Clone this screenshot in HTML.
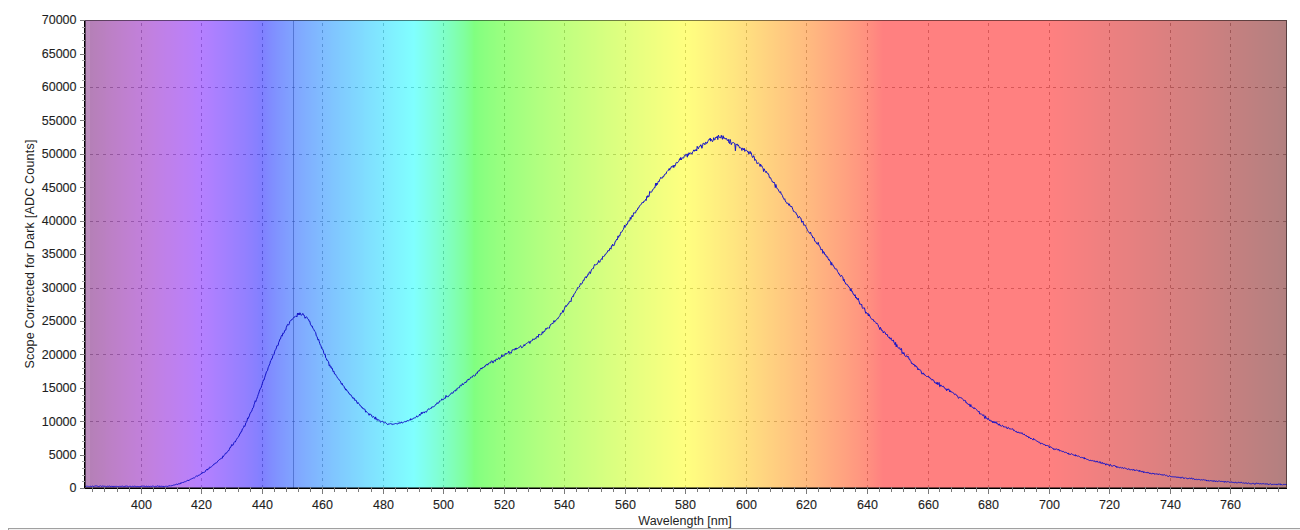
<!DOCTYPE html>
<html><head><meta charset="utf-8"><style>
html,body{margin:0;padding:0;background:#fff;width:1300px;height:530px;overflow:hidden}
svg{display:block}
text{font-family:"Liberation Sans",sans-serif;font-size:12.5px;fill:#1e1e1e;stroke:#1e1e1e;stroke-width:0.12px}
</style></head><body>
<svg width="1300" height="530" viewBox="0 0 1300 530">
<defs><linearGradient id="g" x1="84" x2="1287" y1="0" y2="0" gradientUnits="userSpaceOnUse">
<stop offset="0.0000" stop-color="#b280b2"/>
<stop offset="0.0012" stop-color="#b280b4"/>
<stop offset="0.0025" stop-color="#b380b5"/>
<stop offset="0.0037" stop-color="#b480b6"/>
<stop offset="0.0050" stop-color="#b580b7"/>
<stop offset="0.0062" stop-color="#b580b8"/>
<stop offset="0.0075" stop-color="#b680b9"/>
<stop offset="0.0087" stop-color="#b780ba"/>
<stop offset="0.0100" stop-color="#b780bb"/>
<stop offset="0.0112" stop-color="#b880bc"/>
<stop offset="0.0125" stop-color="#b880bd"/>
<stop offset="0.0137" stop-color="#b980be"/>
<stop offset="0.0150" stop-color="#b980bf"/>
<stop offset="0.0162" stop-color="#ba80c0"/>
<stop offset="0.0175" stop-color="#ba80c1"/>
<stop offset="0.0187" stop-color="#bb80c3"/>
<stop offset="0.0200" stop-color="#bb80c4"/>
<stop offset="0.0212" stop-color="#bc80c5"/>
<stop offset="0.0224" stop-color="#bc80c6"/>
<stop offset="0.0237" stop-color="#bd80c7"/>
<stop offset="0.0249" stop-color="#bd80c8"/>
<stop offset="0.0262" stop-color="#bd80c9"/>
<stop offset="0.0274" stop-color="#be80ca"/>
<stop offset="0.0287" stop-color="#be80cb"/>
<stop offset="0.0299" stop-color="#be80cc"/>
<stop offset="0.0312" stop-color="#bf80cd"/>
<stop offset="0.0324" stop-color="#bf80ce"/>
<stop offset="0.0337" stop-color="#bf80cf"/>
<stop offset="0.0349" stop-color="#bf80d0"/>
<stop offset="0.0362" stop-color="#c080d1"/>
<stop offset="0.0374" stop-color="#c080d2"/>
<stop offset="0.0387" stop-color="#c080d3"/>
<stop offset="0.0399" stop-color="#c080d4"/>
<stop offset="0.0411" stop-color="#c080d5"/>
<stop offset="0.0424" stop-color="#c080d6"/>
<stop offset="0.0436" stop-color="#c180d7"/>
<stop offset="0.0449" stop-color="#c180d8"/>
<stop offset="0.0461" stop-color="#c180d9"/>
<stop offset="0.0474" stop-color="#c180da"/>
<stop offset="0.0486" stop-color="#c180da"/>
<stop offset="0.0499" stop-color="#c180db"/>
<stop offset="0.0511" stop-color="#c180dc"/>
<stop offset="0.0524" stop-color="#c180dd"/>
<stop offset="0.0536" stop-color="#c180de"/>
<stop offset="0.0549" stop-color="#c180df"/>
<stop offset="0.0561" stop-color="#c180e0"/>
<stop offset="0.0574" stop-color="#c180e1"/>
<stop offset="0.0586" stop-color="#c180e2"/>
<stop offset="0.0599" stop-color="#c080e3"/>
<stop offset="0.0611" stop-color="#c080e4"/>
<stop offset="0.0623" stop-color="#c080e5"/>
<stop offset="0.0636" stop-color="#c080e6"/>
<stop offset="0.0648" stop-color="#c080e7"/>
<stop offset="0.0661" stop-color="#c080e8"/>
<stop offset="0.0673" stop-color="#bf80e9"/>
<stop offset="0.0686" stop-color="#bf80ea"/>
<stop offset="0.0698" stop-color="#bf80eb"/>
<stop offset="0.0711" stop-color="#bf80eb"/>
<stop offset="0.0723" stop-color="#be80ec"/>
<stop offset="0.0736" stop-color="#be80ed"/>
<stop offset="0.0748" stop-color="#be80ee"/>
<stop offset="0.0761" stop-color="#bd80ef"/>
<stop offset="0.0773" stop-color="#bd80f0"/>
<stop offset="0.0786" stop-color="#bd80f1"/>
<stop offset="0.0798" stop-color="#bc80f2"/>
<stop offset="0.0810" stop-color="#bc80f3"/>
<stop offset="0.0823" stop-color="#bc80f4"/>
<stop offset="0.0835" stop-color="#bb80f5"/>
<stop offset="0.0848" stop-color="#bb80f5"/>
<stop offset="0.0860" stop-color="#ba80f6"/>
<stop offset="0.0873" stop-color="#ba80f7"/>
<stop offset="0.0885" stop-color="#b980f8"/>
<stop offset="0.0898" stop-color="#b980f9"/>
<stop offset="0.0910" stop-color="#b880fa"/>
<stop offset="0.0923" stop-color="#b780fb"/>
<stop offset="0.0935" stop-color="#b780fc"/>
<stop offset="0.0948" stop-color="#b680fd"/>
<stop offset="0.0960" stop-color="#b680fe"/>
<stop offset="0.0973" stop-color="#b580fe"/>
<stop offset="0.0985" stop-color="#b480ff"/>
<stop offset="0.0998" stop-color="#b380ff"/>
<stop offset="0.1010" stop-color="#b280ff"/>
<stop offset="0.1022" stop-color="#b180ff"/>
<stop offset="0.1035" stop-color="#b080ff"/>
<stop offset="0.1047" stop-color="#af80ff"/>
<stop offset="0.1060" stop-color="#ae80ff"/>
<stop offset="0.1072" stop-color="#ad80ff"/>
<stop offset="0.1085" stop-color="#ab80ff"/>
<stop offset="0.1097" stop-color="#aa80ff"/>
<stop offset="0.1110" stop-color="#a980ff"/>
<stop offset="0.1122" stop-color="#a880ff"/>
<stop offset="0.1135" stop-color="#a780ff"/>
<stop offset="0.1147" stop-color="#a680ff"/>
<stop offset="0.1160" stop-color="#a580ff"/>
<stop offset="0.1172" stop-color="#a480ff"/>
<stop offset="0.1185" stop-color="#a280ff"/>
<stop offset="0.1197" stop-color="#a180ff"/>
<stop offset="0.1209" stop-color="#a080ff"/>
<stop offset="0.1222" stop-color="#9f80ff"/>
<stop offset="0.1234" stop-color="#9e80ff"/>
<stop offset="0.1247" stop-color="#9c80ff"/>
<stop offset="0.1259" stop-color="#9b80ff"/>
<stop offset="0.1272" stop-color="#9a80ff"/>
<stop offset="0.1284" stop-color="#9980ff"/>
<stop offset="0.1297" stop-color="#9780ff"/>
<stop offset="0.1309" stop-color="#9680ff"/>
<stop offset="0.1322" stop-color="#9580ff"/>
<stop offset="0.1334" stop-color="#9480ff"/>
<stop offset="0.1347" stop-color="#9280ff"/>
<stop offset="0.1359" stop-color="#9180ff"/>
<stop offset="0.1372" stop-color="#8f80ff"/>
<stop offset="0.1384" stop-color="#8e80ff"/>
<stop offset="0.1397" stop-color="#8d80ff"/>
<stop offset="0.1409" stop-color="#8b80ff"/>
<stop offset="0.1421" stop-color="#8980ff"/>
<stop offset="0.1434" stop-color="#8880ff"/>
<stop offset="0.1446" stop-color="#8680ff"/>
<stop offset="0.1459" stop-color="#8480ff"/>
<stop offset="0.1471" stop-color="#8280ff"/>
<stop offset="0.1484" stop-color="#8080ff"/>
<stop offset="0.1496" stop-color="#8083ff"/>
<stop offset="0.1509" stop-color="#8085ff"/>
<stop offset="0.1521" stop-color="#8087ff"/>
<stop offset="0.1534" stop-color="#8089ff"/>
<stop offset="0.1546" stop-color="#808bff"/>
<stop offset="0.1559" stop-color="#808dff"/>
<stop offset="0.1571" stop-color="#808fff"/>
<stop offset="0.1584" stop-color="#8090ff"/>
<stop offset="0.1596" stop-color="#8092ff"/>
<stop offset="0.1608" stop-color="#8094ff"/>
<stop offset="0.1621" stop-color="#8095ff"/>
<stop offset="0.1633" stop-color="#8097ff"/>
<stop offset="0.1646" stop-color="#8098ff"/>
<stop offset="0.1658" stop-color="#809aff"/>
<stop offset="0.1671" stop-color="#809bff"/>
<stop offset="0.1683" stop-color="#809dff"/>
<stop offset="0.1696" stop-color="#809eff"/>
<stop offset="0.1708" stop-color="#80a0ff"/>
<stop offset="0.1721" stop-color="#80a1ff"/>
<stop offset="0.1733" stop-color="#80a2ff"/>
<stop offset="0.1746" stop-color="#80a4ff"/>
<stop offset="0.1758" stop-color="#80a5ff"/>
<stop offset="0.1771" stop-color="#80a7ff"/>
<stop offset="0.1783" stop-color="#80a8ff"/>
<stop offset="0.1796" stop-color="#80a9ff"/>
<stop offset="0.1808" stop-color="#80abff"/>
<stop offset="0.1820" stop-color="#80acff"/>
<stop offset="0.1833" stop-color="#80adff"/>
<stop offset="0.1845" stop-color="#80afff"/>
<stop offset="0.1858" stop-color="#80b0ff"/>
<stop offset="0.1870" stop-color="#80b1ff"/>
<stop offset="0.1883" stop-color="#80b2ff"/>
<stop offset="0.1895" stop-color="#80b4ff"/>
<stop offset="0.1908" stop-color="#80b5ff"/>
<stop offset="0.1920" stop-color="#80b6ff"/>
<stop offset="0.1933" stop-color="#80b7ff"/>
<stop offset="0.1945" stop-color="#80b9ff"/>
<stop offset="0.1958" stop-color="#80baff"/>
<stop offset="0.1970" stop-color="#80bbff"/>
<stop offset="0.1983" stop-color="#80bcff"/>
<stop offset="0.1995" stop-color="#80beff"/>
<stop offset="0.2007" stop-color="#80bfff"/>
<stop offset="0.2020" stop-color="#80c0ff"/>
<stop offset="0.2032" stop-color="#80c1ff"/>
<stop offset="0.2045" stop-color="#80c2ff"/>
<stop offset="0.2057" stop-color="#80c4ff"/>
<stop offset="0.2070" stop-color="#80c5ff"/>
<stop offset="0.2082" stop-color="#80c6ff"/>
<stop offset="0.2095" stop-color="#80c7ff"/>
<stop offset="0.2107" stop-color="#80c8ff"/>
<stop offset="0.2120" stop-color="#80c9ff"/>
<stop offset="0.2132" stop-color="#80cbff"/>
<stop offset="0.2145" stop-color="#80ccff"/>
<stop offset="0.2157" stop-color="#80cdff"/>
<stop offset="0.2170" stop-color="#80ceff"/>
<stop offset="0.2182" stop-color="#80cfff"/>
<stop offset="0.2195" stop-color="#80d0ff"/>
<stop offset="0.2207" stop-color="#80d1ff"/>
<stop offset="0.2219" stop-color="#80d3ff"/>
<stop offset="0.2232" stop-color="#80d4ff"/>
<stop offset="0.2244" stop-color="#80d5ff"/>
<stop offset="0.2257" stop-color="#80d6ff"/>
<stop offset="0.2269" stop-color="#80d7ff"/>
<stop offset="0.2282" stop-color="#80d8ff"/>
<stop offset="0.2294" stop-color="#80d9ff"/>
<stop offset="0.2307" stop-color="#80daff"/>
<stop offset="0.2319" stop-color="#80dbff"/>
<stop offset="0.2332" stop-color="#80ddff"/>
<stop offset="0.2344" stop-color="#80deff"/>
<stop offset="0.2357" stop-color="#80dfff"/>
<stop offset="0.2369" stop-color="#80e0ff"/>
<stop offset="0.2382" stop-color="#80e1ff"/>
<stop offset="0.2394" stop-color="#80e2ff"/>
<stop offset="0.2406" stop-color="#80e3ff"/>
<stop offset="0.2419" stop-color="#80e4ff"/>
<stop offset="0.2431" stop-color="#80e5ff"/>
<stop offset="0.2444" stop-color="#80e6ff"/>
<stop offset="0.2456" stop-color="#80e7ff"/>
<stop offset="0.2469" stop-color="#80e8ff"/>
<stop offset="0.2481" stop-color="#80e9ff"/>
<stop offset="0.2494" stop-color="#80ebff"/>
<stop offset="0.2506" stop-color="#80ecff"/>
<stop offset="0.2519" stop-color="#80edff"/>
<stop offset="0.2531" stop-color="#80eeff"/>
<stop offset="0.2544" stop-color="#80efff"/>
<stop offset="0.2556" stop-color="#80f0ff"/>
<stop offset="0.2569" stop-color="#80f1ff"/>
<stop offset="0.2581" stop-color="#80f2ff"/>
<stop offset="0.2594" stop-color="#80f3ff"/>
<stop offset="0.2606" stop-color="#80f4ff"/>
<stop offset="0.2618" stop-color="#80f5ff"/>
<stop offset="0.2631" stop-color="#80f6ff"/>
<stop offset="0.2643" stop-color="#80f7ff"/>
<stop offset="0.2656" stop-color="#80f8ff"/>
<stop offset="0.2668" stop-color="#80f9ff"/>
<stop offset="0.2681" stop-color="#80faff"/>
<stop offset="0.2693" stop-color="#80fbff"/>
<stop offset="0.2706" stop-color="#80fcff"/>
<stop offset="0.2718" stop-color="#80fdff"/>
<stop offset="0.2731" stop-color="#80feff"/>
<stop offset="0.2743" stop-color="#80ffff"/>
<stop offset="0.2756" stop-color="#80fffc"/>
<stop offset="0.2768" stop-color="#80fff9"/>
<stop offset="0.2781" stop-color="#80fff7"/>
<stop offset="0.2793" stop-color="#80fff4"/>
<stop offset="0.2805" stop-color="#80fff2"/>
<stop offset="0.2818" stop-color="#80ffef"/>
<stop offset="0.2830" stop-color="#80ffed"/>
<stop offset="0.2843" stop-color="#80ffea"/>
<stop offset="0.2855" stop-color="#80ffe7"/>
<stop offset="0.2868" stop-color="#80ffe5"/>
<stop offset="0.2880" stop-color="#80ffe2"/>
<stop offset="0.2893" stop-color="#80ffdf"/>
<stop offset="0.2905" stop-color="#80ffdc"/>
<stop offset="0.2918" stop-color="#80ffda"/>
<stop offset="0.2930" stop-color="#80ffd7"/>
<stop offset="0.2943" stop-color="#80ffd4"/>
<stop offset="0.2955" stop-color="#80ffd1"/>
<stop offset="0.2968" stop-color="#80ffce"/>
<stop offset="0.2980" stop-color="#80ffcc"/>
<stop offset="0.2993" stop-color="#80ffc9"/>
<stop offset="0.3005" stop-color="#80ffc6"/>
<stop offset="0.3017" stop-color="#80ffc3"/>
<stop offset="0.3030" stop-color="#80ffc0"/>
<stop offset="0.3042" stop-color="#80ffbd"/>
<stop offset="0.3055" stop-color="#80ffba"/>
<stop offset="0.3067" stop-color="#80ffb7"/>
<stop offset="0.3080" stop-color="#80ffb4"/>
<stop offset="0.3092" stop-color="#80ffb0"/>
<stop offset="0.3105" stop-color="#80ffad"/>
<stop offset="0.3117" stop-color="#80ffaa"/>
<stop offset="0.3130" stop-color="#80ffa6"/>
<stop offset="0.3142" stop-color="#80ffa3"/>
<stop offset="0.3155" stop-color="#80ffa0"/>
<stop offset="0.3167" stop-color="#80ff9c"/>
<stop offset="0.3180" stop-color="#80ff98"/>
<stop offset="0.3192" stop-color="#80ff94"/>
<stop offset="0.3204" stop-color="#80ff90"/>
<stop offset="0.3217" stop-color="#80ff8c"/>
<stop offset="0.3229" stop-color="#80ff87"/>
<stop offset="0.3242" stop-color="#80ff81"/>
<stop offset="0.3254" stop-color="#82ff80"/>
<stop offset="0.3267" stop-color="#83ff80"/>
<stop offset="0.3279" stop-color="#85ff80"/>
<stop offset="0.3292" stop-color="#87ff80"/>
<stop offset="0.3304" stop-color="#88ff80"/>
<stop offset="0.3317" stop-color="#89ff80"/>
<stop offset="0.3329" stop-color="#8bff80"/>
<stop offset="0.3342" stop-color="#8cff80"/>
<stop offset="0.3354" stop-color="#8dff80"/>
<stop offset="0.3367" stop-color="#8fff80"/>
<stop offset="0.3379" stop-color="#90ff80"/>
<stop offset="0.3392" stop-color="#91ff80"/>
<stop offset="0.3404" stop-color="#92ff80"/>
<stop offset="0.3416" stop-color="#93ff80"/>
<stop offset="0.3429" stop-color="#95ff80"/>
<stop offset="0.3441" stop-color="#96ff80"/>
<stop offset="0.3454" stop-color="#97ff80"/>
<stop offset="0.3466" stop-color="#98ff80"/>
<stop offset="0.3479" stop-color="#99ff80"/>
<stop offset="0.3491" stop-color="#9aff80"/>
<stop offset="0.3504" stop-color="#9bff80"/>
<stop offset="0.3516" stop-color="#9cff80"/>
<stop offset="0.3529" stop-color="#9dff80"/>
<stop offset="0.3541" stop-color="#9eff80"/>
<stop offset="0.3554" stop-color="#9fff80"/>
<stop offset="0.3566" stop-color="#a0ff80"/>
<stop offset="0.3579" stop-color="#a1ff80"/>
<stop offset="0.3591" stop-color="#a2ff80"/>
<stop offset="0.3603" stop-color="#a3ff80"/>
<stop offset="0.3616" stop-color="#a4ff80"/>
<stop offset="0.3628" stop-color="#a5ff80"/>
<stop offset="0.3641" stop-color="#a6ff80"/>
<stop offset="0.3653" stop-color="#a7ff80"/>
<stop offset="0.3666" stop-color="#a8ff80"/>
<stop offset="0.3678" stop-color="#a9ff80"/>
<stop offset="0.3691" stop-color="#aaff80"/>
<stop offset="0.3703" stop-color="#abff80"/>
<stop offset="0.3716" stop-color="#acff80"/>
<stop offset="0.3728" stop-color="#adff80"/>
<stop offset="0.3741" stop-color="#aeff80"/>
<stop offset="0.3753" stop-color="#afff80"/>
<stop offset="0.3766" stop-color="#b0ff80"/>
<stop offset="0.3778" stop-color="#b1ff80"/>
<stop offset="0.3791" stop-color="#b2ff80"/>
<stop offset="0.3803" stop-color="#b2ff80"/>
<stop offset="0.3815" stop-color="#b3ff80"/>
<stop offset="0.3828" stop-color="#b4ff80"/>
<stop offset="0.3840" stop-color="#b5ff80"/>
<stop offset="0.3853" stop-color="#b6ff80"/>
<stop offset="0.3865" stop-color="#b7ff80"/>
<stop offset="0.3878" stop-color="#b8ff80"/>
<stop offset="0.3890" stop-color="#b9ff80"/>
<stop offset="0.3903" stop-color="#baff80"/>
<stop offset="0.3915" stop-color="#baff80"/>
<stop offset="0.3928" stop-color="#bbff80"/>
<stop offset="0.3940" stop-color="#bcff80"/>
<stop offset="0.3953" stop-color="#bdff80"/>
<stop offset="0.3965" stop-color="#beff80"/>
<stop offset="0.3978" stop-color="#bfff80"/>
<stop offset="0.3990" stop-color="#c0ff80"/>
<stop offset="0.4002" stop-color="#c1ff80"/>
<stop offset="0.4015" stop-color="#c1ff80"/>
<stop offset="0.4027" stop-color="#c2ff80"/>
<stop offset="0.4040" stop-color="#c3ff80"/>
<stop offset="0.4052" stop-color="#c4ff80"/>
<stop offset="0.4065" stop-color="#c5ff80"/>
<stop offset="0.4077" stop-color="#c6ff80"/>
<stop offset="0.4090" stop-color="#c6ff80"/>
<stop offset="0.4102" stop-color="#c7ff80"/>
<stop offset="0.4115" stop-color="#c8ff80"/>
<stop offset="0.4127" stop-color="#c9ff80"/>
<stop offset="0.4140" stop-color="#caff80"/>
<stop offset="0.4152" stop-color="#cbff80"/>
<stop offset="0.4165" stop-color="#cbff80"/>
<stop offset="0.4177" stop-color="#ccff80"/>
<stop offset="0.4190" stop-color="#cdff80"/>
<stop offset="0.4202" stop-color="#ceff80"/>
<stop offset="0.4214" stop-color="#cfff80"/>
<stop offset="0.4227" stop-color="#d0ff80"/>
<stop offset="0.4239" stop-color="#d0ff80"/>
<stop offset="0.4252" stop-color="#d1ff80"/>
<stop offset="0.4264" stop-color="#d2ff80"/>
<stop offset="0.4277" stop-color="#d3ff80"/>
<stop offset="0.4289" stop-color="#d4ff80"/>
<stop offset="0.4302" stop-color="#d4ff80"/>
<stop offset="0.4314" stop-color="#d5ff80"/>
<stop offset="0.4327" stop-color="#d6ff80"/>
<stop offset="0.4339" stop-color="#d7ff80"/>
<stop offset="0.4352" stop-color="#d8ff80"/>
<stop offset="0.4364" stop-color="#d8ff80"/>
<stop offset="0.4377" stop-color="#d9ff80"/>
<stop offset="0.4389" stop-color="#daff80"/>
<stop offset="0.4401" stop-color="#dbff80"/>
<stop offset="0.4414" stop-color="#dbff80"/>
<stop offset="0.4426" stop-color="#dcff80"/>
<stop offset="0.4439" stop-color="#ddff80"/>
<stop offset="0.4451" stop-color="#deff80"/>
<stop offset="0.4464" stop-color="#dfff80"/>
<stop offset="0.4476" stop-color="#dfff80"/>
<stop offset="0.4489" stop-color="#e0ff80"/>
<stop offset="0.4501" stop-color="#e1ff80"/>
<stop offset="0.4514" stop-color="#e2ff80"/>
<stop offset="0.4526" stop-color="#e2ff80"/>
<stop offset="0.4539" stop-color="#e3ff80"/>
<stop offset="0.4551" stop-color="#e4ff80"/>
<stop offset="0.4564" stop-color="#e5ff80"/>
<stop offset="0.4576" stop-color="#e6ff80"/>
<stop offset="0.4589" stop-color="#e6ff80"/>
<stop offset="0.4601" stop-color="#e7ff80"/>
<stop offset="0.4613" stop-color="#e8ff80"/>
<stop offset="0.4626" stop-color="#e9ff80"/>
<stop offset="0.4638" stop-color="#e9ff80"/>
<stop offset="0.4651" stop-color="#eaff80"/>
<stop offset="0.4663" stop-color="#ebff80"/>
<stop offset="0.4676" stop-color="#ecff80"/>
<stop offset="0.4688" stop-color="#ecff80"/>
<stop offset="0.4701" stop-color="#edff80"/>
<stop offset="0.4713" stop-color="#eeff80"/>
<stop offset="0.4726" stop-color="#efff80"/>
<stop offset="0.4738" stop-color="#efff80"/>
<stop offset="0.4751" stop-color="#f0ff80"/>
<stop offset="0.4763" stop-color="#f1ff80"/>
<stop offset="0.4776" stop-color="#f2ff80"/>
<stop offset="0.4788" stop-color="#f2ff80"/>
<stop offset="0.4800" stop-color="#f3ff80"/>
<stop offset="0.4813" stop-color="#f4ff80"/>
<stop offset="0.4825" stop-color="#f5ff80"/>
<stop offset="0.4838" stop-color="#f5ff80"/>
<stop offset="0.4850" stop-color="#f6ff80"/>
<stop offset="0.4863" stop-color="#f7ff80"/>
<stop offset="0.4875" stop-color="#f7ff80"/>
<stop offset="0.4888" stop-color="#f8ff80"/>
<stop offset="0.4900" stop-color="#f9ff80"/>
<stop offset="0.4913" stop-color="#faff80"/>
<stop offset="0.4925" stop-color="#faff80"/>
<stop offset="0.4938" stop-color="#fbff80"/>
<stop offset="0.4950" stop-color="#fcff80"/>
<stop offset="0.4963" stop-color="#fdff80"/>
<stop offset="0.4975" stop-color="#fdff80"/>
<stop offset="0.4988" stop-color="#feff80"/>
<stop offset="0.5000" stop-color="#ffff80"/>
<stop offset="0.5012" stop-color="#fffe80"/>
<stop offset="0.5025" stop-color="#fffe80"/>
<stop offset="0.5037" stop-color="#fffd80"/>
<stop offset="0.5050" stop-color="#fffc80"/>
<stop offset="0.5062" stop-color="#fffb80"/>
<stop offset="0.5075" stop-color="#fffb80"/>
<stop offset="0.5087" stop-color="#fffa80"/>
<stop offset="0.5100" stop-color="#fff980"/>
<stop offset="0.5112" stop-color="#fff880"/>
<stop offset="0.5125" stop-color="#fff780"/>
<stop offset="0.5137" stop-color="#fff780"/>
<stop offset="0.5150" stop-color="#fff680"/>
<stop offset="0.5162" stop-color="#fff580"/>
<stop offset="0.5175" stop-color="#fff480"/>
<stop offset="0.5187" stop-color="#fff380"/>
<stop offset="0.5200" stop-color="#fff380"/>
<stop offset="0.5212" stop-color="#fff280"/>
<stop offset="0.5224" stop-color="#fff180"/>
<stop offset="0.5237" stop-color="#fff080"/>
<stop offset="0.5249" stop-color="#ffef80"/>
<stop offset="0.5262" stop-color="#ffef80"/>
<stop offset="0.5274" stop-color="#ffee80"/>
<stop offset="0.5287" stop-color="#ffed80"/>
<stop offset="0.5299" stop-color="#ffec80"/>
<stop offset="0.5312" stop-color="#ffeb80"/>
<stop offset="0.5324" stop-color="#ffeb80"/>
<stop offset="0.5337" stop-color="#ffea80"/>
<stop offset="0.5349" stop-color="#ffe980"/>
<stop offset="0.5362" stop-color="#ffe880"/>
<stop offset="0.5374" stop-color="#ffe780"/>
<stop offset="0.5387" stop-color="#ffe780"/>
<stop offset="0.5399" stop-color="#ffe680"/>
<stop offset="0.5411" stop-color="#ffe580"/>
<stop offset="0.5424" stop-color="#ffe480"/>
<stop offset="0.5436" stop-color="#ffe380"/>
<stop offset="0.5449" stop-color="#ffe280"/>
<stop offset="0.5461" stop-color="#ffe280"/>
<stop offset="0.5474" stop-color="#ffe180"/>
<stop offset="0.5486" stop-color="#ffe080"/>
<stop offset="0.5499" stop-color="#ffdf80"/>
<stop offset="0.5511" stop-color="#ffde80"/>
<stop offset="0.5524" stop-color="#ffdd80"/>
<stop offset="0.5536" stop-color="#ffdd80"/>
<stop offset="0.5549" stop-color="#ffdc80"/>
<stop offset="0.5561" stop-color="#ffdb80"/>
<stop offset="0.5574" stop-color="#ffda80"/>
<stop offset="0.5586" stop-color="#ffd980"/>
<stop offset="0.5599" stop-color="#ffd880"/>
<stop offset="0.5611" stop-color="#ffd780"/>
<stop offset="0.5623" stop-color="#ffd780"/>
<stop offset="0.5636" stop-color="#ffd680"/>
<stop offset="0.5648" stop-color="#ffd580"/>
<stop offset="0.5661" stop-color="#ffd480"/>
<stop offset="0.5673" stop-color="#ffd380"/>
<stop offset="0.5686" stop-color="#ffd280"/>
<stop offset="0.5698" stop-color="#ffd180"/>
<stop offset="0.5711" stop-color="#ffd180"/>
<stop offset="0.5723" stop-color="#ffd080"/>
<stop offset="0.5736" stop-color="#ffcf80"/>
<stop offset="0.5748" stop-color="#ffce80"/>
<stop offset="0.5761" stop-color="#ffcd80"/>
<stop offset="0.5773" stop-color="#ffcc80"/>
<stop offset="0.5786" stop-color="#ffcb80"/>
<stop offset="0.5798" stop-color="#ffca80"/>
<stop offset="0.5810" stop-color="#ffca80"/>
<stop offset="0.5823" stop-color="#ffc980"/>
<stop offset="0.5835" stop-color="#ffc880"/>
<stop offset="0.5848" stop-color="#ffc780"/>
<stop offset="0.5860" stop-color="#ffc680"/>
<stop offset="0.5873" stop-color="#ffc580"/>
<stop offset="0.5885" stop-color="#ffc480"/>
<stop offset="0.5898" stop-color="#ffc380"/>
<stop offset="0.5910" stop-color="#ffc280"/>
<stop offset="0.5923" stop-color="#ffc180"/>
<stop offset="0.5935" stop-color="#ffc080"/>
<stop offset="0.5948" stop-color="#ffc080"/>
<stop offset="0.5960" stop-color="#ffbf80"/>
<stop offset="0.5973" stop-color="#ffbe80"/>
<stop offset="0.5985" stop-color="#ffbd80"/>
<stop offset="0.5998" stop-color="#ffbc80"/>
<stop offset="0.6010" stop-color="#ffbb80"/>
<stop offset="0.6022" stop-color="#ffba80"/>
<stop offset="0.6035" stop-color="#ffb980"/>
<stop offset="0.6047" stop-color="#ffb880"/>
<stop offset="0.6060" stop-color="#ffb780"/>
<stop offset="0.6072" stop-color="#ffb680"/>
<stop offset="0.6085" stop-color="#ffb580"/>
<stop offset="0.6097" stop-color="#ffb480"/>
<stop offset="0.6110" stop-color="#ffb380"/>
<stop offset="0.6122" stop-color="#ffb280"/>
<stop offset="0.6135" stop-color="#ffb180"/>
<stop offset="0.6147" stop-color="#ffb080"/>
<stop offset="0.6160" stop-color="#ffaf80"/>
<stop offset="0.6172" stop-color="#ffae80"/>
<stop offset="0.6185" stop-color="#ffad80"/>
<stop offset="0.6197" stop-color="#ffac80"/>
<stop offset="0.6209" stop-color="#ffab80"/>
<stop offset="0.6222" stop-color="#ffaa80"/>
<stop offset="0.6234" stop-color="#ffa980"/>
<stop offset="0.6247" stop-color="#ffa880"/>
<stop offset="0.6259" stop-color="#ffa780"/>
<stop offset="0.6272" stop-color="#ffa680"/>
<stop offset="0.6284" stop-color="#ffa580"/>
<stop offset="0.6297" stop-color="#ffa480"/>
<stop offset="0.6309" stop-color="#ffa380"/>
<stop offset="0.6322" stop-color="#ffa280"/>
<stop offset="0.6334" stop-color="#ffa180"/>
<stop offset="0.6347" stop-color="#ffa080"/>
<stop offset="0.6359" stop-color="#ff9f80"/>
<stop offset="0.6372" stop-color="#ff9d80"/>
<stop offset="0.6384" stop-color="#ff9c80"/>
<stop offset="0.6397" stop-color="#ff9b80"/>
<stop offset="0.6409" stop-color="#ff9a80"/>
<stop offset="0.6421" stop-color="#ff9980"/>
<stop offset="0.6434" stop-color="#ff9880"/>
<stop offset="0.6446" stop-color="#ff9780"/>
<stop offset="0.6459" stop-color="#ff9580"/>
<stop offset="0.6471" stop-color="#ff9480"/>
<stop offset="0.6484" stop-color="#ff9380"/>
<stop offset="0.6496" stop-color="#ff9280"/>
<stop offset="0.6509" stop-color="#ff9080"/>
<stop offset="0.6521" stop-color="#ff8f80"/>
<stop offset="0.6534" stop-color="#ff8e80"/>
<stop offset="0.6546" stop-color="#ff8c80"/>
<stop offset="0.6559" stop-color="#ff8b80"/>
<stop offset="0.6571" stop-color="#ff8980"/>
<stop offset="0.6584" stop-color="#ff8880"/>
<stop offset="0.6596" stop-color="#ff8680"/>
<stop offset="0.6608" stop-color="#ff8580"/>
<stop offset="0.6621" stop-color="#ff8380"/>
<stop offset="0.6633" stop-color="#ff8180"/>
<stop offset="0.6646" stop-color="#ff8080"/>
<stop offset="0.6658" stop-color="#ff8080"/>
<stop offset="0.6671" stop-color="#ff8080"/>
<stop offset="0.6683" stop-color="#ff8080"/>
<stop offset="0.6696" stop-color="#ff8080"/>
<stop offset="0.6708" stop-color="#ff8080"/>
<stop offset="0.6721" stop-color="#ff8080"/>
<stop offset="0.6733" stop-color="#ff8080"/>
<stop offset="0.6746" stop-color="#ff8080"/>
<stop offset="0.6758" stop-color="#ff8080"/>
<stop offset="0.6771" stop-color="#ff8080"/>
<stop offset="0.6783" stop-color="#ff8080"/>
<stop offset="0.6796" stop-color="#ff8080"/>
<stop offset="0.6808" stop-color="#ff8080"/>
<stop offset="0.6820" stop-color="#ff8080"/>
<stop offset="0.6833" stop-color="#ff8080"/>
<stop offset="0.6845" stop-color="#ff8080"/>
<stop offset="0.6858" stop-color="#ff8080"/>
<stop offset="0.6870" stop-color="#ff8080"/>
<stop offset="0.6883" stop-color="#ff8080"/>
<stop offset="0.6895" stop-color="#ff8080"/>
<stop offset="0.6908" stop-color="#ff8080"/>
<stop offset="0.6920" stop-color="#ff8080"/>
<stop offset="0.6933" stop-color="#ff8080"/>
<stop offset="0.6945" stop-color="#ff8080"/>
<stop offset="0.6958" stop-color="#ff8080"/>
<stop offset="0.6970" stop-color="#ff8080"/>
<stop offset="0.6983" stop-color="#ff8080"/>
<stop offset="0.6995" stop-color="#ff8080"/>
<stop offset="0.7007" stop-color="#ff8080"/>
<stop offset="0.7020" stop-color="#ff8080"/>
<stop offset="0.7032" stop-color="#ff8080"/>
<stop offset="0.7045" stop-color="#ff8080"/>
<stop offset="0.7057" stop-color="#ff8080"/>
<stop offset="0.7070" stop-color="#ff8080"/>
<stop offset="0.7082" stop-color="#ff8080"/>
<stop offset="0.7095" stop-color="#ff8080"/>
<stop offset="0.7107" stop-color="#ff8080"/>
<stop offset="0.7120" stop-color="#ff8080"/>
<stop offset="0.7132" stop-color="#ff8080"/>
<stop offset="0.7145" stop-color="#ff8080"/>
<stop offset="0.7157" stop-color="#ff8080"/>
<stop offset="0.7170" stop-color="#ff8080"/>
<stop offset="0.7182" stop-color="#ff8080"/>
<stop offset="0.7195" stop-color="#ff8080"/>
<stop offset="0.7207" stop-color="#ff8080"/>
<stop offset="0.7219" stop-color="#ff8080"/>
<stop offset="0.7232" stop-color="#ff8080"/>
<stop offset="0.7244" stop-color="#ff8080"/>
<stop offset="0.7257" stop-color="#ff8080"/>
<stop offset="0.7269" stop-color="#ff8080"/>
<stop offset="0.7282" stop-color="#ff8080"/>
<stop offset="0.7294" stop-color="#ff8080"/>
<stop offset="0.7307" stop-color="#ff8080"/>
<stop offset="0.7319" stop-color="#ff8080"/>
<stop offset="0.7332" stop-color="#ff8080"/>
<stop offset="0.7344" stop-color="#ff8080"/>
<stop offset="0.7357" stop-color="#ff8080"/>
<stop offset="0.7369" stop-color="#ff8080"/>
<stop offset="0.7382" stop-color="#ff8080"/>
<stop offset="0.7394" stop-color="#ff8080"/>
<stop offset="0.7406" stop-color="#ff8080"/>
<stop offset="0.7419" stop-color="#ff8080"/>
<stop offset="0.7431" stop-color="#ff8080"/>
<stop offset="0.7444" stop-color="#ff8080"/>
<stop offset="0.7456" stop-color="#ff8080"/>
<stop offset="0.7469" stop-color="#ff8080"/>
<stop offset="0.7481" stop-color="#ff8080"/>
<stop offset="0.7494" stop-color="#ff8080"/>
<stop offset="0.7506" stop-color="#ff8080"/>
<stop offset="0.7519" stop-color="#ff8080"/>
<stop offset="0.7531" stop-color="#ff8080"/>
<stop offset="0.7544" stop-color="#ff8080"/>
<stop offset="0.7556" stop-color="#ff8080"/>
<stop offset="0.7569" stop-color="#ff8080"/>
<stop offset="0.7581" stop-color="#ff8080"/>
<stop offset="0.7594" stop-color="#ff8080"/>
<stop offset="0.7606" stop-color="#ff8080"/>
<stop offset="0.7618" stop-color="#ff8080"/>
<stop offset="0.7631" stop-color="#ff8080"/>
<stop offset="0.7643" stop-color="#ff8080"/>
<stop offset="0.7656" stop-color="#ff8080"/>
<stop offset="0.7668" stop-color="#ff8080"/>
<stop offset="0.7681" stop-color="#ff8080"/>
<stop offset="0.7693" stop-color="#ff8080"/>
<stop offset="0.7706" stop-color="#ff8080"/>
<stop offset="0.7718" stop-color="#ff8080"/>
<stop offset="0.7731" stop-color="#ff8080"/>
<stop offset="0.7743" stop-color="#ff8080"/>
<stop offset="0.7756" stop-color="#ff8080"/>
<stop offset="0.7768" stop-color="#ff8080"/>
<stop offset="0.7781" stop-color="#ff8080"/>
<stop offset="0.7793" stop-color="#ff8080"/>
<stop offset="0.7805" stop-color="#ff8080"/>
<stop offset="0.7818" stop-color="#ff8080"/>
<stop offset="0.7830" stop-color="#ff8080"/>
<stop offset="0.7843" stop-color="#ff8080"/>
<stop offset="0.7855" stop-color="#ff8080"/>
<stop offset="0.7868" stop-color="#ff8080"/>
<stop offset="0.7880" stop-color="#ff8080"/>
<stop offset="0.7893" stop-color="#ff8080"/>
<stop offset="0.7905" stop-color="#ff8080"/>
<stop offset="0.7918" stop-color="#ff8080"/>
<stop offset="0.7930" stop-color="#ff8080"/>
<stop offset="0.7943" stop-color="#ff8080"/>
<stop offset="0.7955" stop-color="#ff8080"/>
<stop offset="0.7968" stop-color="#ff8080"/>
<stop offset="0.7980" stop-color="#ff8080"/>
<stop offset="0.7993" stop-color="#ff8080"/>
<stop offset="0.8005" stop-color="#ff8080"/>
<stop offset="0.8017" stop-color="#ff8080"/>
<stop offset="0.8030" stop-color="#ff8080"/>
<stop offset="0.8042" stop-color="#fe8080"/>
<stop offset="0.8055" stop-color="#fe8080"/>
<stop offset="0.8067" stop-color="#fd8080"/>
<stop offset="0.8080" stop-color="#fd8080"/>
<stop offset="0.8092" stop-color="#fc8080"/>
<stop offset="0.8105" stop-color="#fc8080"/>
<stop offset="0.8117" stop-color="#fc8080"/>
<stop offset="0.8130" stop-color="#fb8080"/>
<stop offset="0.8142" stop-color="#fb8080"/>
<stop offset="0.8155" stop-color="#fa8080"/>
<stop offset="0.8167" stop-color="#fa8080"/>
<stop offset="0.8180" stop-color="#f98080"/>
<stop offset="0.8192" stop-color="#f98080"/>
<stop offset="0.8204" stop-color="#f88080"/>
<stop offset="0.8217" stop-color="#f88080"/>
<stop offset="0.8229" stop-color="#f88080"/>
<stop offset="0.8242" stop-color="#f78080"/>
<stop offset="0.8254" stop-color="#f78080"/>
<stop offset="0.8267" stop-color="#f68080"/>
<stop offset="0.8279" stop-color="#f68080"/>
<stop offset="0.8292" stop-color="#f58080"/>
<stop offset="0.8304" stop-color="#f58080"/>
<stop offset="0.8317" stop-color="#f48080"/>
<stop offset="0.8329" stop-color="#f48080"/>
<stop offset="0.8342" stop-color="#f48080"/>
<stop offset="0.8354" stop-color="#f38080"/>
<stop offset="0.8367" stop-color="#f38080"/>
<stop offset="0.8379" stop-color="#f28080"/>
<stop offset="0.8392" stop-color="#f28080"/>
<stop offset="0.8404" stop-color="#f18080"/>
<stop offset="0.8416" stop-color="#f18080"/>
<stop offset="0.8429" stop-color="#f08080"/>
<stop offset="0.8441" stop-color="#f08080"/>
<stop offset="0.8454" stop-color="#ef8080"/>
<stop offset="0.8466" stop-color="#ef8080"/>
<stop offset="0.8479" stop-color="#ee8080"/>
<stop offset="0.8491" stop-color="#ee8080"/>
<stop offset="0.8504" stop-color="#ee8080"/>
<stop offset="0.8516" stop-color="#ed8080"/>
<stop offset="0.8529" stop-color="#ed8080"/>
<stop offset="0.8541" stop-color="#ec8080"/>
<stop offset="0.8554" stop-color="#ec8080"/>
<stop offset="0.8566" stop-color="#eb8080"/>
<stop offset="0.8579" stop-color="#eb8080"/>
<stop offset="0.8591" stop-color="#ea8080"/>
<stop offset="0.8603" stop-color="#ea8080"/>
<stop offset="0.8616" stop-color="#e98080"/>
<stop offset="0.8628" stop-color="#e98080"/>
<stop offset="0.8641" stop-color="#e88080"/>
<stop offset="0.8653" stop-color="#e88080"/>
<stop offset="0.8666" stop-color="#e88080"/>
<stop offset="0.8678" stop-color="#e78080"/>
<stop offset="0.8691" stop-color="#e78080"/>
<stop offset="0.8703" stop-color="#e68080"/>
<stop offset="0.8716" stop-color="#e68080"/>
<stop offset="0.8728" stop-color="#e58080"/>
<stop offset="0.8741" stop-color="#e58080"/>
<stop offset="0.8753" stop-color="#e48080"/>
<stop offset="0.8766" stop-color="#e48080"/>
<stop offset="0.8778" stop-color="#e38080"/>
<stop offset="0.8791" stop-color="#e38080"/>
<stop offset="0.8803" stop-color="#e28080"/>
<stop offset="0.8815" stop-color="#e28080"/>
<stop offset="0.8828" stop-color="#e18080"/>
<stop offset="0.8840" stop-color="#e18080"/>
<stop offset="0.8853" stop-color="#e18080"/>
<stop offset="0.8865" stop-color="#e08080"/>
<stop offset="0.8878" stop-color="#e08080"/>
<stop offset="0.8890" stop-color="#df8080"/>
<stop offset="0.8903" stop-color="#df8080"/>
<stop offset="0.8915" stop-color="#de8080"/>
<stop offset="0.8928" stop-color="#de8080"/>
<stop offset="0.8940" stop-color="#dd8080"/>
<stop offset="0.8953" stop-color="#dd8080"/>
<stop offset="0.8965" stop-color="#dc8080"/>
<stop offset="0.8978" stop-color="#dc8080"/>
<stop offset="0.8990" stop-color="#db8080"/>
<stop offset="0.9002" stop-color="#db8080"/>
<stop offset="0.9015" stop-color="#da8080"/>
<stop offset="0.9027" stop-color="#da8080"/>
<stop offset="0.9040" stop-color="#d98080"/>
<stop offset="0.9052" stop-color="#d98080"/>
<stop offset="0.9065" stop-color="#d88080"/>
<stop offset="0.9077" stop-color="#d88080"/>
<stop offset="0.9090" stop-color="#d78080"/>
<stop offset="0.9102" stop-color="#d78080"/>
<stop offset="0.9115" stop-color="#d68080"/>
<stop offset="0.9127" stop-color="#d68080"/>
<stop offset="0.9140" stop-color="#d58080"/>
<stop offset="0.9152" stop-color="#d58080"/>
<stop offset="0.9165" stop-color="#d48080"/>
<stop offset="0.9177" stop-color="#d48080"/>
<stop offset="0.9190" stop-color="#d48080"/>
<stop offset="0.9202" stop-color="#d38080"/>
<stop offset="0.9214" stop-color="#d38080"/>
<stop offset="0.9227" stop-color="#d28080"/>
<stop offset="0.9239" stop-color="#d28080"/>
<stop offset="0.9252" stop-color="#d18080"/>
<stop offset="0.9264" stop-color="#d18080"/>
<stop offset="0.9277" stop-color="#d08080"/>
<stop offset="0.9289" stop-color="#d08080"/>
<stop offset="0.9302" stop-color="#cf8080"/>
<stop offset="0.9314" stop-color="#cf8080"/>
<stop offset="0.9327" stop-color="#ce8080"/>
<stop offset="0.9339" stop-color="#ce8080"/>
<stop offset="0.9352" stop-color="#cd8080"/>
<stop offset="0.9364" stop-color="#cd8080"/>
<stop offset="0.9377" stop-color="#cc8080"/>
<stop offset="0.9389" stop-color="#cc8080"/>
<stop offset="0.9401" stop-color="#cb8080"/>
<stop offset="0.9414" stop-color="#cb8080"/>
<stop offset="0.9426" stop-color="#ca8080"/>
<stop offset="0.9439" stop-color="#ca8080"/>
<stop offset="0.9451" stop-color="#c98080"/>
<stop offset="0.9464" stop-color="#c98080"/>
<stop offset="0.9476" stop-color="#c88080"/>
<stop offset="0.9489" stop-color="#c78080"/>
<stop offset="0.9501" stop-color="#c78080"/>
<stop offset="0.9514" stop-color="#c68080"/>
<stop offset="0.9526" stop-color="#c68080"/>
<stop offset="0.9539" stop-color="#c58080"/>
<stop offset="0.9551" stop-color="#c58080"/>
<stop offset="0.9564" stop-color="#c48080"/>
<stop offset="0.9576" stop-color="#c48080"/>
<stop offset="0.9589" stop-color="#c38080"/>
<stop offset="0.9601" stop-color="#c38080"/>
<stop offset="0.9613" stop-color="#c28080"/>
<stop offset="0.9626" stop-color="#c28080"/>
<stop offset="0.9638" stop-color="#c18080"/>
<stop offset="0.9651" stop-color="#c18080"/>
<stop offset="0.9663" stop-color="#c08080"/>
<stop offset="0.9676" stop-color="#c08080"/>
<stop offset="0.9688" stop-color="#bf8080"/>
<stop offset="0.9701" stop-color="#bf8080"/>
<stop offset="0.9713" stop-color="#be8080"/>
<stop offset="0.9726" stop-color="#be8080"/>
<stop offset="0.9738" stop-color="#bd8080"/>
<stop offset="0.9751" stop-color="#bd8080"/>
<stop offset="0.9763" stop-color="#bc8080"/>
<stop offset="0.9776" stop-color="#bb8080"/>
<stop offset="0.9788" stop-color="#bb8080"/>
<stop offset="0.9800" stop-color="#ba8080"/>
<stop offset="0.9813" stop-color="#ba8080"/>
<stop offset="0.9825" stop-color="#b98080"/>
<stop offset="0.9838" stop-color="#b98080"/>
<stop offset="0.9850" stop-color="#b88080"/>
<stop offset="0.9863" stop-color="#b88080"/>
<stop offset="0.9875" stop-color="#b78080"/>
<stop offset="0.9888" stop-color="#b78080"/>
<stop offset="0.9900" stop-color="#b68080"/>
<stop offset="0.9913" stop-color="#b68080"/>
<stop offset="0.9925" stop-color="#b58080"/>
<stop offset="0.9938" stop-color="#b48080"/>
<stop offset="0.9950" stop-color="#b48080"/>
<stop offset="0.9963" stop-color="#b38080"/>
<stop offset="0.9975" stop-color="#b38080"/>
<stop offset="0.9988" stop-color="#b28080"/>
<stop offset="1.0000" stop-color="#b28080"/>
</linearGradient>
<linearGradient id="gd" x1="84" x2="1287" y1="0" y2="0" gradientUnits="userSpaceOnUse">
<stop offset="0.0000" stop-color="#8a588a"/>
<stop offset="0.0012" stop-color="#8a588c"/>
<stop offset="0.0025" stop-color="#8b588d"/>
<stop offset="0.0037" stop-color="#8c588e"/>
<stop offset="0.0050" stop-color="#8d588f"/>
<stop offset="0.0062" stop-color="#8d5890"/>
<stop offset="0.0075" stop-color="#8e5891"/>
<stop offset="0.0087" stop-color="#8f5892"/>
<stop offset="0.0100" stop-color="#8f5893"/>
<stop offset="0.0112" stop-color="#905894"/>
<stop offset="0.0125" stop-color="#905895"/>
<stop offset="0.0137" stop-color="#915896"/>
<stop offset="0.0150" stop-color="#915897"/>
<stop offset="0.0162" stop-color="#925898"/>
<stop offset="0.0175" stop-color="#925899"/>
<stop offset="0.0187" stop-color="#93589b"/>
<stop offset="0.0200" stop-color="#93589c"/>
<stop offset="0.0212" stop-color="#94589d"/>
<stop offset="0.0224" stop-color="#94589e"/>
<stop offset="0.0237" stop-color="#95589f"/>
<stop offset="0.0249" stop-color="#9558a0"/>
<stop offset="0.0262" stop-color="#9558a1"/>
<stop offset="0.0274" stop-color="#9658a2"/>
<stop offset="0.0287" stop-color="#9658a3"/>
<stop offset="0.0299" stop-color="#9658a4"/>
<stop offset="0.0312" stop-color="#9758a5"/>
<stop offset="0.0324" stop-color="#9758a6"/>
<stop offset="0.0337" stop-color="#9758a7"/>
<stop offset="0.0349" stop-color="#9758a8"/>
<stop offset="0.0362" stop-color="#9858a9"/>
<stop offset="0.0374" stop-color="#9858aa"/>
<stop offset="0.0387" stop-color="#9858ab"/>
<stop offset="0.0399" stop-color="#9858ac"/>
<stop offset="0.0411" stop-color="#9858ad"/>
<stop offset="0.0424" stop-color="#9858ae"/>
<stop offset="0.0436" stop-color="#9958af"/>
<stop offset="0.0449" stop-color="#9958b0"/>
<stop offset="0.0461" stop-color="#9958b1"/>
<stop offset="0.0474" stop-color="#9958b2"/>
<stop offset="0.0486" stop-color="#9958b2"/>
<stop offset="0.0499" stop-color="#9958b3"/>
<stop offset="0.0511" stop-color="#9958b4"/>
<stop offset="0.0524" stop-color="#9958b5"/>
<stop offset="0.0536" stop-color="#9958b6"/>
<stop offset="0.0549" stop-color="#9958b7"/>
<stop offset="0.0561" stop-color="#9958b8"/>
<stop offset="0.0574" stop-color="#9958b9"/>
<stop offset="0.0586" stop-color="#9958ba"/>
<stop offset="0.0599" stop-color="#9858bb"/>
<stop offset="0.0611" stop-color="#9858bc"/>
<stop offset="0.0623" stop-color="#9858bd"/>
<stop offset="0.0636" stop-color="#9858be"/>
<stop offset="0.0648" stop-color="#9858bf"/>
<stop offset="0.0661" stop-color="#9858c0"/>
<stop offset="0.0673" stop-color="#9758c1"/>
<stop offset="0.0686" stop-color="#9758c2"/>
<stop offset="0.0698" stop-color="#9758c3"/>
<stop offset="0.0711" stop-color="#9758c3"/>
<stop offset="0.0723" stop-color="#9658c4"/>
<stop offset="0.0736" stop-color="#9658c5"/>
<stop offset="0.0748" stop-color="#9658c6"/>
<stop offset="0.0761" stop-color="#9558c7"/>
<stop offset="0.0773" stop-color="#9558c8"/>
<stop offset="0.0786" stop-color="#9558c9"/>
<stop offset="0.0798" stop-color="#9458ca"/>
<stop offset="0.0810" stop-color="#9458cb"/>
<stop offset="0.0823" stop-color="#9458cc"/>
<stop offset="0.0835" stop-color="#9358cd"/>
<stop offset="0.0848" stop-color="#9358cd"/>
<stop offset="0.0860" stop-color="#9258ce"/>
<stop offset="0.0873" stop-color="#9258cf"/>
<stop offset="0.0885" stop-color="#9158d0"/>
<stop offset="0.0898" stop-color="#9158d1"/>
<stop offset="0.0910" stop-color="#9058d2"/>
<stop offset="0.0923" stop-color="#8f58d3"/>
<stop offset="0.0935" stop-color="#8f58d4"/>
<stop offset="0.0948" stop-color="#8e58d5"/>
<stop offset="0.0960" stop-color="#8e58d6"/>
<stop offset="0.0973" stop-color="#8d58d6"/>
<stop offset="0.0985" stop-color="#8c58d7"/>
<stop offset="0.0998" stop-color="#8b58d7"/>
<stop offset="0.1010" stop-color="#8a58d7"/>
<stop offset="0.1022" stop-color="#8958d7"/>
<stop offset="0.1035" stop-color="#8858d7"/>
<stop offset="0.1047" stop-color="#8758d7"/>
<stop offset="0.1060" stop-color="#8658d7"/>
<stop offset="0.1072" stop-color="#8558d7"/>
<stop offset="0.1085" stop-color="#8358d7"/>
<stop offset="0.1097" stop-color="#8258d7"/>
<stop offset="0.1110" stop-color="#8158d7"/>
<stop offset="0.1122" stop-color="#8058d7"/>
<stop offset="0.1135" stop-color="#7f58d7"/>
<stop offset="0.1147" stop-color="#7e58d7"/>
<stop offset="0.1160" stop-color="#7d58d7"/>
<stop offset="0.1172" stop-color="#7c58d7"/>
<stop offset="0.1185" stop-color="#7a58d7"/>
<stop offset="0.1197" stop-color="#7958d7"/>
<stop offset="0.1209" stop-color="#7858d7"/>
<stop offset="0.1222" stop-color="#7758d7"/>
<stop offset="0.1234" stop-color="#7658d7"/>
<stop offset="0.1247" stop-color="#7458d7"/>
<stop offset="0.1259" stop-color="#7358d7"/>
<stop offset="0.1272" stop-color="#7258d7"/>
<stop offset="0.1284" stop-color="#7158d7"/>
<stop offset="0.1297" stop-color="#6f58d7"/>
<stop offset="0.1309" stop-color="#6e58d7"/>
<stop offset="0.1322" stop-color="#6d58d7"/>
<stop offset="0.1334" stop-color="#6c58d7"/>
<stop offset="0.1347" stop-color="#6a58d7"/>
<stop offset="0.1359" stop-color="#6958d7"/>
<stop offset="0.1372" stop-color="#6758d7"/>
<stop offset="0.1384" stop-color="#6658d7"/>
<stop offset="0.1397" stop-color="#6558d7"/>
<stop offset="0.1409" stop-color="#6358d7"/>
<stop offset="0.1421" stop-color="#6158d7"/>
<stop offset="0.1434" stop-color="#6058d7"/>
<stop offset="0.1446" stop-color="#5e58d7"/>
<stop offset="0.1459" stop-color="#5c58d7"/>
<stop offset="0.1471" stop-color="#5a58d7"/>
<stop offset="0.1484" stop-color="#5858d7"/>
<stop offset="0.1496" stop-color="#585bd7"/>
<stop offset="0.1509" stop-color="#585dd7"/>
<stop offset="0.1521" stop-color="#585fd7"/>
<stop offset="0.1534" stop-color="#5861d7"/>
<stop offset="0.1546" stop-color="#5863d7"/>
<stop offset="0.1559" stop-color="#5865d7"/>
<stop offset="0.1571" stop-color="#5867d7"/>
<stop offset="0.1584" stop-color="#5868d7"/>
<stop offset="0.1596" stop-color="#586ad7"/>
<stop offset="0.1608" stop-color="#586cd7"/>
<stop offset="0.1621" stop-color="#586dd7"/>
<stop offset="0.1633" stop-color="#586fd7"/>
<stop offset="0.1646" stop-color="#5870d7"/>
<stop offset="0.1658" stop-color="#5872d7"/>
<stop offset="0.1671" stop-color="#5873d7"/>
<stop offset="0.1683" stop-color="#5875d7"/>
<stop offset="0.1696" stop-color="#5876d7"/>
<stop offset="0.1708" stop-color="#5878d7"/>
<stop offset="0.1721" stop-color="#5879d7"/>
<stop offset="0.1733" stop-color="#587ad7"/>
<stop offset="0.1746" stop-color="#587cd7"/>
<stop offset="0.1758" stop-color="#587dd7"/>
<stop offset="0.1771" stop-color="#587fd7"/>
<stop offset="0.1783" stop-color="#5880d7"/>
<stop offset="0.1796" stop-color="#5881d7"/>
<stop offset="0.1808" stop-color="#5883d7"/>
<stop offset="0.1820" stop-color="#5884d7"/>
<stop offset="0.1833" stop-color="#5885d7"/>
<stop offset="0.1845" stop-color="#5887d7"/>
<stop offset="0.1858" stop-color="#5888d7"/>
<stop offset="0.1870" stop-color="#5889d7"/>
<stop offset="0.1883" stop-color="#588ad7"/>
<stop offset="0.1895" stop-color="#588cd7"/>
<stop offset="0.1908" stop-color="#588dd7"/>
<stop offset="0.1920" stop-color="#588ed7"/>
<stop offset="0.1933" stop-color="#588fd7"/>
<stop offset="0.1945" stop-color="#5891d7"/>
<stop offset="0.1958" stop-color="#5892d7"/>
<stop offset="0.1970" stop-color="#5893d7"/>
<stop offset="0.1983" stop-color="#5894d7"/>
<stop offset="0.1995" stop-color="#5896d7"/>
<stop offset="0.2007" stop-color="#5897d7"/>
<stop offset="0.2020" stop-color="#5898d7"/>
<stop offset="0.2032" stop-color="#5899d7"/>
<stop offset="0.2045" stop-color="#589ad7"/>
<stop offset="0.2057" stop-color="#589cd7"/>
<stop offset="0.2070" stop-color="#589dd7"/>
<stop offset="0.2082" stop-color="#589ed7"/>
<stop offset="0.2095" stop-color="#589fd7"/>
<stop offset="0.2107" stop-color="#58a0d7"/>
<stop offset="0.2120" stop-color="#58a1d7"/>
<stop offset="0.2132" stop-color="#58a3d7"/>
<stop offset="0.2145" stop-color="#58a4d7"/>
<stop offset="0.2157" stop-color="#58a5d7"/>
<stop offset="0.2170" stop-color="#58a6d7"/>
<stop offset="0.2182" stop-color="#58a7d7"/>
<stop offset="0.2195" stop-color="#58a8d7"/>
<stop offset="0.2207" stop-color="#58a9d7"/>
<stop offset="0.2219" stop-color="#58abd7"/>
<stop offset="0.2232" stop-color="#58acd7"/>
<stop offset="0.2244" stop-color="#58add7"/>
<stop offset="0.2257" stop-color="#58aed7"/>
<stop offset="0.2269" stop-color="#58afd7"/>
<stop offset="0.2282" stop-color="#58b0d7"/>
<stop offset="0.2294" stop-color="#58b1d7"/>
<stop offset="0.2307" stop-color="#58b2d7"/>
<stop offset="0.2319" stop-color="#58b3d7"/>
<stop offset="0.2332" stop-color="#58b5d7"/>
<stop offset="0.2344" stop-color="#58b6d7"/>
<stop offset="0.2357" stop-color="#58b7d7"/>
<stop offset="0.2369" stop-color="#58b8d7"/>
<stop offset="0.2382" stop-color="#58b9d7"/>
<stop offset="0.2394" stop-color="#58bad7"/>
<stop offset="0.2406" stop-color="#58bbd7"/>
<stop offset="0.2419" stop-color="#58bcd7"/>
<stop offset="0.2431" stop-color="#58bdd7"/>
<stop offset="0.2444" stop-color="#58bed7"/>
<stop offset="0.2456" stop-color="#58bfd7"/>
<stop offset="0.2469" stop-color="#58c0d7"/>
<stop offset="0.2481" stop-color="#58c1d7"/>
<stop offset="0.2494" stop-color="#58c3d7"/>
<stop offset="0.2506" stop-color="#58c4d7"/>
<stop offset="0.2519" stop-color="#58c5d7"/>
<stop offset="0.2531" stop-color="#58c6d7"/>
<stop offset="0.2544" stop-color="#58c7d7"/>
<stop offset="0.2556" stop-color="#58c8d7"/>
<stop offset="0.2569" stop-color="#58c9d7"/>
<stop offset="0.2581" stop-color="#58cad7"/>
<stop offset="0.2594" stop-color="#58cbd7"/>
<stop offset="0.2606" stop-color="#58ccd7"/>
<stop offset="0.2618" stop-color="#58cdd7"/>
<stop offset="0.2631" stop-color="#58ced7"/>
<stop offset="0.2643" stop-color="#58cfd7"/>
<stop offset="0.2656" stop-color="#58d0d7"/>
<stop offset="0.2668" stop-color="#58d1d7"/>
<stop offset="0.2681" stop-color="#58d2d7"/>
<stop offset="0.2693" stop-color="#58d3d7"/>
<stop offset="0.2706" stop-color="#58d4d7"/>
<stop offset="0.2718" stop-color="#58d5d7"/>
<stop offset="0.2731" stop-color="#58d6d7"/>
<stop offset="0.2743" stop-color="#58d7d7"/>
<stop offset="0.2756" stop-color="#58d7d4"/>
<stop offset="0.2768" stop-color="#58d7d1"/>
<stop offset="0.2781" stop-color="#58d7cf"/>
<stop offset="0.2793" stop-color="#58d7cc"/>
<stop offset="0.2805" stop-color="#58d7ca"/>
<stop offset="0.2818" stop-color="#58d7c7"/>
<stop offset="0.2830" stop-color="#58d7c5"/>
<stop offset="0.2843" stop-color="#58d7c2"/>
<stop offset="0.2855" stop-color="#58d7bf"/>
<stop offset="0.2868" stop-color="#58d7bd"/>
<stop offset="0.2880" stop-color="#58d7ba"/>
<stop offset="0.2893" stop-color="#58d7b7"/>
<stop offset="0.2905" stop-color="#58d7b4"/>
<stop offset="0.2918" stop-color="#58d7b2"/>
<stop offset="0.2930" stop-color="#58d7af"/>
<stop offset="0.2943" stop-color="#58d7ac"/>
<stop offset="0.2955" stop-color="#58d7a9"/>
<stop offset="0.2968" stop-color="#58d7a6"/>
<stop offset="0.2980" stop-color="#58d7a4"/>
<stop offset="0.2993" stop-color="#58d7a1"/>
<stop offset="0.3005" stop-color="#58d79e"/>
<stop offset="0.3017" stop-color="#58d79b"/>
<stop offset="0.3030" stop-color="#58d798"/>
<stop offset="0.3042" stop-color="#58d795"/>
<stop offset="0.3055" stop-color="#58d792"/>
<stop offset="0.3067" stop-color="#58d78f"/>
<stop offset="0.3080" stop-color="#58d78c"/>
<stop offset="0.3092" stop-color="#58d788"/>
<stop offset="0.3105" stop-color="#58d785"/>
<stop offset="0.3117" stop-color="#58d782"/>
<stop offset="0.3130" stop-color="#58d77e"/>
<stop offset="0.3142" stop-color="#58d77b"/>
<stop offset="0.3155" stop-color="#58d778"/>
<stop offset="0.3167" stop-color="#58d774"/>
<stop offset="0.3180" stop-color="#58d770"/>
<stop offset="0.3192" stop-color="#58d76c"/>
<stop offset="0.3204" stop-color="#58d768"/>
<stop offset="0.3217" stop-color="#58d764"/>
<stop offset="0.3229" stop-color="#58d75f"/>
<stop offset="0.3242" stop-color="#58d759"/>
<stop offset="0.3254" stop-color="#5ad758"/>
<stop offset="0.3267" stop-color="#5bd758"/>
<stop offset="0.3279" stop-color="#5dd758"/>
<stop offset="0.3292" stop-color="#5fd758"/>
<stop offset="0.3304" stop-color="#60d758"/>
<stop offset="0.3317" stop-color="#61d758"/>
<stop offset="0.3329" stop-color="#63d758"/>
<stop offset="0.3342" stop-color="#64d758"/>
<stop offset="0.3354" stop-color="#65d758"/>
<stop offset="0.3367" stop-color="#67d758"/>
<stop offset="0.3379" stop-color="#68d758"/>
<stop offset="0.3392" stop-color="#69d758"/>
<stop offset="0.3404" stop-color="#6ad758"/>
<stop offset="0.3416" stop-color="#6bd758"/>
<stop offset="0.3429" stop-color="#6dd758"/>
<stop offset="0.3441" stop-color="#6ed758"/>
<stop offset="0.3454" stop-color="#6fd758"/>
<stop offset="0.3466" stop-color="#70d758"/>
<stop offset="0.3479" stop-color="#71d758"/>
<stop offset="0.3491" stop-color="#72d758"/>
<stop offset="0.3504" stop-color="#73d758"/>
<stop offset="0.3516" stop-color="#74d758"/>
<stop offset="0.3529" stop-color="#75d758"/>
<stop offset="0.3541" stop-color="#76d758"/>
<stop offset="0.3554" stop-color="#77d758"/>
<stop offset="0.3566" stop-color="#78d758"/>
<stop offset="0.3579" stop-color="#79d758"/>
<stop offset="0.3591" stop-color="#7ad758"/>
<stop offset="0.3603" stop-color="#7bd758"/>
<stop offset="0.3616" stop-color="#7cd758"/>
<stop offset="0.3628" stop-color="#7dd758"/>
<stop offset="0.3641" stop-color="#7ed758"/>
<stop offset="0.3653" stop-color="#7fd758"/>
<stop offset="0.3666" stop-color="#80d758"/>
<stop offset="0.3678" stop-color="#81d758"/>
<stop offset="0.3691" stop-color="#82d758"/>
<stop offset="0.3703" stop-color="#83d758"/>
<stop offset="0.3716" stop-color="#84d758"/>
<stop offset="0.3728" stop-color="#85d758"/>
<stop offset="0.3741" stop-color="#86d758"/>
<stop offset="0.3753" stop-color="#87d758"/>
<stop offset="0.3766" stop-color="#88d758"/>
<stop offset="0.3778" stop-color="#89d758"/>
<stop offset="0.3791" stop-color="#8ad758"/>
<stop offset="0.3803" stop-color="#8ad758"/>
<stop offset="0.3815" stop-color="#8bd758"/>
<stop offset="0.3828" stop-color="#8cd758"/>
<stop offset="0.3840" stop-color="#8dd758"/>
<stop offset="0.3853" stop-color="#8ed758"/>
<stop offset="0.3865" stop-color="#8fd758"/>
<stop offset="0.3878" stop-color="#90d758"/>
<stop offset="0.3890" stop-color="#91d758"/>
<stop offset="0.3903" stop-color="#92d758"/>
<stop offset="0.3915" stop-color="#92d758"/>
<stop offset="0.3928" stop-color="#93d758"/>
<stop offset="0.3940" stop-color="#94d758"/>
<stop offset="0.3953" stop-color="#95d758"/>
<stop offset="0.3965" stop-color="#96d758"/>
<stop offset="0.3978" stop-color="#97d758"/>
<stop offset="0.3990" stop-color="#98d758"/>
<stop offset="0.4002" stop-color="#99d758"/>
<stop offset="0.4015" stop-color="#99d758"/>
<stop offset="0.4027" stop-color="#9ad758"/>
<stop offset="0.4040" stop-color="#9bd758"/>
<stop offset="0.4052" stop-color="#9cd758"/>
<stop offset="0.4065" stop-color="#9dd758"/>
<stop offset="0.4077" stop-color="#9ed758"/>
<stop offset="0.4090" stop-color="#9ed758"/>
<stop offset="0.4102" stop-color="#9fd758"/>
<stop offset="0.4115" stop-color="#a0d758"/>
<stop offset="0.4127" stop-color="#a1d758"/>
<stop offset="0.4140" stop-color="#a2d758"/>
<stop offset="0.4152" stop-color="#a3d758"/>
<stop offset="0.4165" stop-color="#a3d758"/>
<stop offset="0.4177" stop-color="#a4d758"/>
<stop offset="0.4190" stop-color="#a5d758"/>
<stop offset="0.4202" stop-color="#a6d758"/>
<stop offset="0.4214" stop-color="#a7d758"/>
<stop offset="0.4227" stop-color="#a8d758"/>
<stop offset="0.4239" stop-color="#a8d758"/>
<stop offset="0.4252" stop-color="#a9d758"/>
<stop offset="0.4264" stop-color="#aad758"/>
<stop offset="0.4277" stop-color="#abd758"/>
<stop offset="0.4289" stop-color="#acd758"/>
<stop offset="0.4302" stop-color="#acd758"/>
<stop offset="0.4314" stop-color="#add758"/>
<stop offset="0.4327" stop-color="#aed758"/>
<stop offset="0.4339" stop-color="#afd758"/>
<stop offset="0.4352" stop-color="#b0d758"/>
<stop offset="0.4364" stop-color="#b0d758"/>
<stop offset="0.4377" stop-color="#b1d758"/>
<stop offset="0.4389" stop-color="#b2d758"/>
<stop offset="0.4401" stop-color="#b3d758"/>
<stop offset="0.4414" stop-color="#b3d758"/>
<stop offset="0.4426" stop-color="#b4d758"/>
<stop offset="0.4439" stop-color="#b5d758"/>
<stop offset="0.4451" stop-color="#b6d758"/>
<stop offset="0.4464" stop-color="#b7d758"/>
<stop offset="0.4476" stop-color="#b7d758"/>
<stop offset="0.4489" stop-color="#b8d758"/>
<stop offset="0.4501" stop-color="#b9d758"/>
<stop offset="0.4514" stop-color="#bad758"/>
<stop offset="0.4526" stop-color="#bad758"/>
<stop offset="0.4539" stop-color="#bbd758"/>
<stop offset="0.4551" stop-color="#bcd758"/>
<stop offset="0.4564" stop-color="#bdd758"/>
<stop offset="0.4576" stop-color="#bed758"/>
<stop offset="0.4589" stop-color="#bed758"/>
<stop offset="0.4601" stop-color="#bfd758"/>
<stop offset="0.4613" stop-color="#c0d758"/>
<stop offset="0.4626" stop-color="#c1d758"/>
<stop offset="0.4638" stop-color="#c1d758"/>
<stop offset="0.4651" stop-color="#c2d758"/>
<stop offset="0.4663" stop-color="#c3d758"/>
<stop offset="0.4676" stop-color="#c4d758"/>
<stop offset="0.4688" stop-color="#c4d758"/>
<stop offset="0.4701" stop-color="#c5d758"/>
<stop offset="0.4713" stop-color="#c6d758"/>
<stop offset="0.4726" stop-color="#c7d758"/>
<stop offset="0.4738" stop-color="#c7d758"/>
<stop offset="0.4751" stop-color="#c8d758"/>
<stop offset="0.4763" stop-color="#c9d758"/>
<stop offset="0.4776" stop-color="#cad758"/>
<stop offset="0.4788" stop-color="#cad758"/>
<stop offset="0.4800" stop-color="#cbd758"/>
<stop offset="0.4813" stop-color="#ccd758"/>
<stop offset="0.4825" stop-color="#cdd758"/>
<stop offset="0.4838" stop-color="#cdd758"/>
<stop offset="0.4850" stop-color="#ced758"/>
<stop offset="0.4863" stop-color="#cfd758"/>
<stop offset="0.4875" stop-color="#cfd758"/>
<stop offset="0.4888" stop-color="#d0d758"/>
<stop offset="0.4900" stop-color="#d1d758"/>
<stop offset="0.4913" stop-color="#d2d758"/>
<stop offset="0.4925" stop-color="#d2d758"/>
<stop offset="0.4938" stop-color="#d3d758"/>
<stop offset="0.4950" stop-color="#d4d758"/>
<stop offset="0.4963" stop-color="#d5d758"/>
<stop offset="0.4975" stop-color="#d5d758"/>
<stop offset="0.4988" stop-color="#d6d758"/>
<stop offset="0.5000" stop-color="#d7d758"/>
<stop offset="0.5012" stop-color="#d7d658"/>
<stop offset="0.5025" stop-color="#d7d658"/>
<stop offset="0.5037" stop-color="#d7d558"/>
<stop offset="0.5050" stop-color="#d7d458"/>
<stop offset="0.5062" stop-color="#d7d358"/>
<stop offset="0.5075" stop-color="#d7d358"/>
<stop offset="0.5087" stop-color="#d7d258"/>
<stop offset="0.5100" stop-color="#d7d158"/>
<stop offset="0.5112" stop-color="#d7d058"/>
<stop offset="0.5125" stop-color="#d7cf58"/>
<stop offset="0.5137" stop-color="#d7cf58"/>
<stop offset="0.5150" stop-color="#d7ce58"/>
<stop offset="0.5162" stop-color="#d7cd58"/>
<stop offset="0.5175" stop-color="#d7cc58"/>
<stop offset="0.5187" stop-color="#d7cb58"/>
<stop offset="0.5200" stop-color="#d7cb58"/>
<stop offset="0.5212" stop-color="#d7ca58"/>
<stop offset="0.5224" stop-color="#d7c958"/>
<stop offset="0.5237" stop-color="#d7c858"/>
<stop offset="0.5249" stop-color="#d7c758"/>
<stop offset="0.5262" stop-color="#d7c758"/>
<stop offset="0.5274" stop-color="#d7c658"/>
<stop offset="0.5287" stop-color="#d7c558"/>
<stop offset="0.5299" stop-color="#d7c458"/>
<stop offset="0.5312" stop-color="#d7c358"/>
<stop offset="0.5324" stop-color="#d7c358"/>
<stop offset="0.5337" stop-color="#d7c258"/>
<stop offset="0.5349" stop-color="#d7c158"/>
<stop offset="0.5362" stop-color="#d7c058"/>
<stop offset="0.5374" stop-color="#d7bf58"/>
<stop offset="0.5387" stop-color="#d7bf58"/>
<stop offset="0.5399" stop-color="#d7be58"/>
<stop offset="0.5411" stop-color="#d7bd58"/>
<stop offset="0.5424" stop-color="#d7bc58"/>
<stop offset="0.5436" stop-color="#d7bb58"/>
<stop offset="0.5449" stop-color="#d7ba58"/>
<stop offset="0.5461" stop-color="#d7ba58"/>
<stop offset="0.5474" stop-color="#d7b958"/>
<stop offset="0.5486" stop-color="#d7b858"/>
<stop offset="0.5499" stop-color="#d7b758"/>
<stop offset="0.5511" stop-color="#d7b658"/>
<stop offset="0.5524" stop-color="#d7b558"/>
<stop offset="0.5536" stop-color="#d7b558"/>
<stop offset="0.5549" stop-color="#d7b458"/>
<stop offset="0.5561" stop-color="#d7b358"/>
<stop offset="0.5574" stop-color="#d7b258"/>
<stop offset="0.5586" stop-color="#d7b158"/>
<stop offset="0.5599" stop-color="#d7b058"/>
<stop offset="0.5611" stop-color="#d7af58"/>
<stop offset="0.5623" stop-color="#d7af58"/>
<stop offset="0.5636" stop-color="#d7ae58"/>
<stop offset="0.5648" stop-color="#d7ad58"/>
<stop offset="0.5661" stop-color="#d7ac58"/>
<stop offset="0.5673" stop-color="#d7ab58"/>
<stop offset="0.5686" stop-color="#d7aa58"/>
<stop offset="0.5698" stop-color="#d7a958"/>
<stop offset="0.5711" stop-color="#d7a958"/>
<stop offset="0.5723" stop-color="#d7a858"/>
<stop offset="0.5736" stop-color="#d7a758"/>
<stop offset="0.5748" stop-color="#d7a658"/>
<stop offset="0.5761" stop-color="#d7a558"/>
<stop offset="0.5773" stop-color="#d7a458"/>
<stop offset="0.5786" stop-color="#d7a358"/>
<stop offset="0.5798" stop-color="#d7a258"/>
<stop offset="0.5810" stop-color="#d7a258"/>
<stop offset="0.5823" stop-color="#d7a158"/>
<stop offset="0.5835" stop-color="#d7a058"/>
<stop offset="0.5848" stop-color="#d79f58"/>
<stop offset="0.5860" stop-color="#d79e58"/>
<stop offset="0.5873" stop-color="#d79d58"/>
<stop offset="0.5885" stop-color="#d79c58"/>
<stop offset="0.5898" stop-color="#d79b58"/>
<stop offset="0.5910" stop-color="#d79a58"/>
<stop offset="0.5923" stop-color="#d79958"/>
<stop offset="0.5935" stop-color="#d79858"/>
<stop offset="0.5948" stop-color="#d79858"/>
<stop offset="0.5960" stop-color="#d79758"/>
<stop offset="0.5973" stop-color="#d79658"/>
<stop offset="0.5985" stop-color="#d79558"/>
<stop offset="0.5998" stop-color="#d79458"/>
<stop offset="0.6010" stop-color="#d79358"/>
<stop offset="0.6022" stop-color="#d79258"/>
<stop offset="0.6035" stop-color="#d79158"/>
<stop offset="0.6047" stop-color="#d79058"/>
<stop offset="0.6060" stop-color="#d78f58"/>
<stop offset="0.6072" stop-color="#d78e58"/>
<stop offset="0.6085" stop-color="#d78d58"/>
<stop offset="0.6097" stop-color="#d78c58"/>
<stop offset="0.6110" stop-color="#d78b58"/>
<stop offset="0.6122" stop-color="#d78a58"/>
<stop offset="0.6135" stop-color="#d78958"/>
<stop offset="0.6147" stop-color="#d78858"/>
<stop offset="0.6160" stop-color="#d78758"/>
<stop offset="0.6172" stop-color="#d78658"/>
<stop offset="0.6185" stop-color="#d78558"/>
<stop offset="0.6197" stop-color="#d78458"/>
<stop offset="0.6209" stop-color="#d78358"/>
<stop offset="0.6222" stop-color="#d78258"/>
<stop offset="0.6234" stop-color="#d78158"/>
<stop offset="0.6247" stop-color="#d78058"/>
<stop offset="0.6259" stop-color="#d77f58"/>
<stop offset="0.6272" stop-color="#d77e58"/>
<stop offset="0.6284" stop-color="#d77d58"/>
<stop offset="0.6297" stop-color="#d77c58"/>
<stop offset="0.6309" stop-color="#d77b58"/>
<stop offset="0.6322" stop-color="#d77a58"/>
<stop offset="0.6334" stop-color="#d77958"/>
<stop offset="0.6347" stop-color="#d77858"/>
<stop offset="0.6359" stop-color="#d77758"/>
<stop offset="0.6372" stop-color="#d77558"/>
<stop offset="0.6384" stop-color="#d77458"/>
<stop offset="0.6397" stop-color="#d77358"/>
<stop offset="0.6409" stop-color="#d77258"/>
<stop offset="0.6421" stop-color="#d77158"/>
<stop offset="0.6434" stop-color="#d77058"/>
<stop offset="0.6446" stop-color="#d76f58"/>
<stop offset="0.6459" stop-color="#d76d58"/>
<stop offset="0.6471" stop-color="#d76c58"/>
<stop offset="0.6484" stop-color="#d76b58"/>
<stop offset="0.6496" stop-color="#d76a58"/>
<stop offset="0.6509" stop-color="#d76858"/>
<stop offset="0.6521" stop-color="#d76758"/>
<stop offset="0.6534" stop-color="#d76658"/>
<stop offset="0.6546" stop-color="#d76458"/>
<stop offset="0.6559" stop-color="#d76358"/>
<stop offset="0.6571" stop-color="#d76158"/>
<stop offset="0.6584" stop-color="#d76058"/>
<stop offset="0.6596" stop-color="#d75e58"/>
<stop offset="0.6608" stop-color="#d75d58"/>
<stop offset="0.6621" stop-color="#d75b58"/>
<stop offset="0.6633" stop-color="#d75958"/>
<stop offset="0.6646" stop-color="#d75858"/>
<stop offset="0.6658" stop-color="#d75858"/>
<stop offset="0.6671" stop-color="#d75858"/>
<stop offset="0.6683" stop-color="#d75858"/>
<stop offset="0.6696" stop-color="#d75858"/>
<stop offset="0.6708" stop-color="#d75858"/>
<stop offset="0.6721" stop-color="#d75858"/>
<stop offset="0.6733" stop-color="#d75858"/>
<stop offset="0.6746" stop-color="#d75858"/>
<stop offset="0.6758" stop-color="#d75858"/>
<stop offset="0.6771" stop-color="#d75858"/>
<stop offset="0.6783" stop-color="#d75858"/>
<stop offset="0.6796" stop-color="#d75858"/>
<stop offset="0.6808" stop-color="#d75858"/>
<stop offset="0.6820" stop-color="#d75858"/>
<stop offset="0.6833" stop-color="#d75858"/>
<stop offset="0.6845" stop-color="#d75858"/>
<stop offset="0.6858" stop-color="#d75858"/>
<stop offset="0.6870" stop-color="#d75858"/>
<stop offset="0.6883" stop-color="#d75858"/>
<stop offset="0.6895" stop-color="#d75858"/>
<stop offset="0.6908" stop-color="#d75858"/>
<stop offset="0.6920" stop-color="#d75858"/>
<stop offset="0.6933" stop-color="#d75858"/>
<stop offset="0.6945" stop-color="#d75858"/>
<stop offset="0.6958" stop-color="#d75858"/>
<stop offset="0.6970" stop-color="#d75858"/>
<stop offset="0.6983" stop-color="#d75858"/>
<stop offset="0.6995" stop-color="#d75858"/>
<stop offset="0.7007" stop-color="#d75858"/>
<stop offset="0.7020" stop-color="#d75858"/>
<stop offset="0.7032" stop-color="#d75858"/>
<stop offset="0.7045" stop-color="#d75858"/>
<stop offset="0.7057" stop-color="#d75858"/>
<stop offset="0.7070" stop-color="#d75858"/>
<stop offset="0.7082" stop-color="#d75858"/>
<stop offset="0.7095" stop-color="#d75858"/>
<stop offset="0.7107" stop-color="#d75858"/>
<stop offset="0.7120" stop-color="#d75858"/>
<stop offset="0.7132" stop-color="#d75858"/>
<stop offset="0.7145" stop-color="#d75858"/>
<stop offset="0.7157" stop-color="#d75858"/>
<stop offset="0.7170" stop-color="#d75858"/>
<stop offset="0.7182" stop-color="#d75858"/>
<stop offset="0.7195" stop-color="#d75858"/>
<stop offset="0.7207" stop-color="#d75858"/>
<stop offset="0.7219" stop-color="#d75858"/>
<stop offset="0.7232" stop-color="#d75858"/>
<stop offset="0.7244" stop-color="#d75858"/>
<stop offset="0.7257" stop-color="#d75858"/>
<stop offset="0.7269" stop-color="#d75858"/>
<stop offset="0.7282" stop-color="#d75858"/>
<stop offset="0.7294" stop-color="#d75858"/>
<stop offset="0.7307" stop-color="#d75858"/>
<stop offset="0.7319" stop-color="#d75858"/>
<stop offset="0.7332" stop-color="#d75858"/>
<stop offset="0.7344" stop-color="#d75858"/>
<stop offset="0.7357" stop-color="#d75858"/>
<stop offset="0.7369" stop-color="#d75858"/>
<stop offset="0.7382" stop-color="#d75858"/>
<stop offset="0.7394" stop-color="#d75858"/>
<stop offset="0.7406" stop-color="#d75858"/>
<stop offset="0.7419" stop-color="#d75858"/>
<stop offset="0.7431" stop-color="#d75858"/>
<stop offset="0.7444" stop-color="#d75858"/>
<stop offset="0.7456" stop-color="#d75858"/>
<stop offset="0.7469" stop-color="#d75858"/>
<stop offset="0.7481" stop-color="#d75858"/>
<stop offset="0.7494" stop-color="#d75858"/>
<stop offset="0.7506" stop-color="#d75858"/>
<stop offset="0.7519" stop-color="#d75858"/>
<stop offset="0.7531" stop-color="#d75858"/>
<stop offset="0.7544" stop-color="#d75858"/>
<stop offset="0.7556" stop-color="#d75858"/>
<stop offset="0.7569" stop-color="#d75858"/>
<stop offset="0.7581" stop-color="#d75858"/>
<stop offset="0.7594" stop-color="#d75858"/>
<stop offset="0.7606" stop-color="#d75858"/>
<stop offset="0.7618" stop-color="#d75858"/>
<stop offset="0.7631" stop-color="#d75858"/>
<stop offset="0.7643" stop-color="#d75858"/>
<stop offset="0.7656" stop-color="#d75858"/>
<stop offset="0.7668" stop-color="#d75858"/>
<stop offset="0.7681" stop-color="#d75858"/>
<stop offset="0.7693" stop-color="#d75858"/>
<stop offset="0.7706" stop-color="#d75858"/>
<stop offset="0.7718" stop-color="#d75858"/>
<stop offset="0.7731" stop-color="#d75858"/>
<stop offset="0.7743" stop-color="#d75858"/>
<stop offset="0.7756" stop-color="#d75858"/>
<stop offset="0.7768" stop-color="#d75858"/>
<stop offset="0.7781" stop-color="#d75858"/>
<stop offset="0.7793" stop-color="#d75858"/>
<stop offset="0.7805" stop-color="#d75858"/>
<stop offset="0.7818" stop-color="#d75858"/>
<stop offset="0.7830" stop-color="#d75858"/>
<stop offset="0.7843" stop-color="#d75858"/>
<stop offset="0.7855" stop-color="#d75858"/>
<stop offset="0.7868" stop-color="#d75858"/>
<stop offset="0.7880" stop-color="#d75858"/>
<stop offset="0.7893" stop-color="#d75858"/>
<stop offset="0.7905" stop-color="#d75858"/>
<stop offset="0.7918" stop-color="#d75858"/>
<stop offset="0.7930" stop-color="#d75858"/>
<stop offset="0.7943" stop-color="#d75858"/>
<stop offset="0.7955" stop-color="#d75858"/>
<stop offset="0.7968" stop-color="#d75858"/>
<stop offset="0.7980" stop-color="#d75858"/>
<stop offset="0.7993" stop-color="#d75858"/>
<stop offset="0.8005" stop-color="#d75858"/>
<stop offset="0.8017" stop-color="#d75858"/>
<stop offset="0.8030" stop-color="#d75858"/>
<stop offset="0.8042" stop-color="#d65858"/>
<stop offset="0.8055" stop-color="#d65858"/>
<stop offset="0.8067" stop-color="#d55858"/>
<stop offset="0.8080" stop-color="#d55858"/>
<stop offset="0.8092" stop-color="#d45858"/>
<stop offset="0.8105" stop-color="#d45858"/>
<stop offset="0.8117" stop-color="#d45858"/>
<stop offset="0.8130" stop-color="#d35858"/>
<stop offset="0.8142" stop-color="#d35858"/>
<stop offset="0.8155" stop-color="#d25858"/>
<stop offset="0.8167" stop-color="#d25858"/>
<stop offset="0.8180" stop-color="#d15858"/>
<stop offset="0.8192" stop-color="#d15858"/>
<stop offset="0.8204" stop-color="#d05858"/>
<stop offset="0.8217" stop-color="#d05858"/>
<stop offset="0.8229" stop-color="#d05858"/>
<stop offset="0.8242" stop-color="#cf5858"/>
<stop offset="0.8254" stop-color="#cf5858"/>
<stop offset="0.8267" stop-color="#ce5858"/>
<stop offset="0.8279" stop-color="#ce5858"/>
<stop offset="0.8292" stop-color="#cd5858"/>
<stop offset="0.8304" stop-color="#cd5858"/>
<stop offset="0.8317" stop-color="#cc5858"/>
<stop offset="0.8329" stop-color="#cc5858"/>
<stop offset="0.8342" stop-color="#cc5858"/>
<stop offset="0.8354" stop-color="#cb5858"/>
<stop offset="0.8367" stop-color="#cb5858"/>
<stop offset="0.8379" stop-color="#ca5858"/>
<stop offset="0.8392" stop-color="#ca5858"/>
<stop offset="0.8404" stop-color="#c95858"/>
<stop offset="0.8416" stop-color="#c95858"/>
<stop offset="0.8429" stop-color="#c85858"/>
<stop offset="0.8441" stop-color="#c85858"/>
<stop offset="0.8454" stop-color="#c75858"/>
<stop offset="0.8466" stop-color="#c75858"/>
<stop offset="0.8479" stop-color="#c65858"/>
<stop offset="0.8491" stop-color="#c65858"/>
<stop offset="0.8504" stop-color="#c65858"/>
<stop offset="0.8516" stop-color="#c55858"/>
<stop offset="0.8529" stop-color="#c55858"/>
<stop offset="0.8541" stop-color="#c45858"/>
<stop offset="0.8554" stop-color="#c45858"/>
<stop offset="0.8566" stop-color="#c35858"/>
<stop offset="0.8579" stop-color="#c35858"/>
<stop offset="0.8591" stop-color="#c25858"/>
<stop offset="0.8603" stop-color="#c25858"/>
<stop offset="0.8616" stop-color="#c15858"/>
<stop offset="0.8628" stop-color="#c15858"/>
<stop offset="0.8641" stop-color="#c05858"/>
<stop offset="0.8653" stop-color="#c05858"/>
<stop offset="0.8666" stop-color="#c05858"/>
<stop offset="0.8678" stop-color="#bf5858"/>
<stop offset="0.8691" stop-color="#bf5858"/>
<stop offset="0.8703" stop-color="#be5858"/>
<stop offset="0.8716" stop-color="#be5858"/>
<stop offset="0.8728" stop-color="#bd5858"/>
<stop offset="0.8741" stop-color="#bd5858"/>
<stop offset="0.8753" stop-color="#bc5858"/>
<stop offset="0.8766" stop-color="#bc5858"/>
<stop offset="0.8778" stop-color="#bb5858"/>
<stop offset="0.8791" stop-color="#bb5858"/>
<stop offset="0.8803" stop-color="#ba5858"/>
<stop offset="0.8815" stop-color="#ba5858"/>
<stop offset="0.8828" stop-color="#b95858"/>
<stop offset="0.8840" stop-color="#b95858"/>
<stop offset="0.8853" stop-color="#b95858"/>
<stop offset="0.8865" stop-color="#b85858"/>
<stop offset="0.8878" stop-color="#b85858"/>
<stop offset="0.8890" stop-color="#b75858"/>
<stop offset="0.8903" stop-color="#b75858"/>
<stop offset="0.8915" stop-color="#b65858"/>
<stop offset="0.8928" stop-color="#b65858"/>
<stop offset="0.8940" stop-color="#b55858"/>
<stop offset="0.8953" stop-color="#b55858"/>
<stop offset="0.8965" stop-color="#b45858"/>
<stop offset="0.8978" stop-color="#b45858"/>
<stop offset="0.8990" stop-color="#b35858"/>
<stop offset="0.9002" stop-color="#b35858"/>
<stop offset="0.9015" stop-color="#b25858"/>
<stop offset="0.9027" stop-color="#b25858"/>
<stop offset="0.9040" stop-color="#b15858"/>
<stop offset="0.9052" stop-color="#b15858"/>
<stop offset="0.9065" stop-color="#b05858"/>
<stop offset="0.9077" stop-color="#b05858"/>
<stop offset="0.9090" stop-color="#af5858"/>
<stop offset="0.9102" stop-color="#af5858"/>
<stop offset="0.9115" stop-color="#ae5858"/>
<stop offset="0.9127" stop-color="#ae5858"/>
<stop offset="0.9140" stop-color="#ad5858"/>
<stop offset="0.9152" stop-color="#ad5858"/>
<stop offset="0.9165" stop-color="#ac5858"/>
<stop offset="0.9177" stop-color="#ac5858"/>
<stop offset="0.9190" stop-color="#ac5858"/>
<stop offset="0.9202" stop-color="#ab5858"/>
<stop offset="0.9214" stop-color="#ab5858"/>
<stop offset="0.9227" stop-color="#aa5858"/>
<stop offset="0.9239" stop-color="#aa5858"/>
<stop offset="0.9252" stop-color="#a95858"/>
<stop offset="0.9264" stop-color="#a95858"/>
<stop offset="0.9277" stop-color="#a85858"/>
<stop offset="0.9289" stop-color="#a85858"/>
<stop offset="0.9302" stop-color="#a75858"/>
<stop offset="0.9314" stop-color="#a75858"/>
<stop offset="0.9327" stop-color="#a65858"/>
<stop offset="0.9339" stop-color="#a65858"/>
<stop offset="0.9352" stop-color="#a55858"/>
<stop offset="0.9364" stop-color="#a55858"/>
<stop offset="0.9377" stop-color="#a45858"/>
<stop offset="0.9389" stop-color="#a45858"/>
<stop offset="0.9401" stop-color="#a35858"/>
<stop offset="0.9414" stop-color="#a35858"/>
<stop offset="0.9426" stop-color="#a25858"/>
<stop offset="0.9439" stop-color="#a25858"/>
<stop offset="0.9451" stop-color="#a15858"/>
<stop offset="0.9464" stop-color="#a15858"/>
<stop offset="0.9476" stop-color="#a05858"/>
<stop offset="0.9489" stop-color="#9f5858"/>
<stop offset="0.9501" stop-color="#9f5858"/>
<stop offset="0.9514" stop-color="#9e5858"/>
<stop offset="0.9526" stop-color="#9e5858"/>
<stop offset="0.9539" stop-color="#9d5858"/>
<stop offset="0.9551" stop-color="#9d5858"/>
<stop offset="0.9564" stop-color="#9c5858"/>
<stop offset="0.9576" stop-color="#9c5858"/>
<stop offset="0.9589" stop-color="#9b5858"/>
<stop offset="0.9601" stop-color="#9b5858"/>
<stop offset="0.9613" stop-color="#9a5858"/>
<stop offset="0.9626" stop-color="#9a5858"/>
<stop offset="0.9638" stop-color="#995858"/>
<stop offset="0.9651" stop-color="#995858"/>
<stop offset="0.9663" stop-color="#985858"/>
<stop offset="0.9676" stop-color="#985858"/>
<stop offset="0.9688" stop-color="#975858"/>
<stop offset="0.9701" stop-color="#975858"/>
<stop offset="0.9713" stop-color="#965858"/>
<stop offset="0.9726" stop-color="#965858"/>
<stop offset="0.9738" stop-color="#955858"/>
<stop offset="0.9751" stop-color="#955858"/>
<stop offset="0.9763" stop-color="#945858"/>
<stop offset="0.9776" stop-color="#935858"/>
<stop offset="0.9788" stop-color="#935858"/>
<stop offset="0.9800" stop-color="#925858"/>
<stop offset="0.9813" stop-color="#925858"/>
<stop offset="0.9825" stop-color="#915858"/>
<stop offset="0.9838" stop-color="#915858"/>
<stop offset="0.9850" stop-color="#905858"/>
<stop offset="0.9863" stop-color="#905858"/>
<stop offset="0.9875" stop-color="#8f5858"/>
<stop offset="0.9888" stop-color="#8f5858"/>
<stop offset="0.9900" stop-color="#8e5858"/>
<stop offset="0.9913" stop-color="#8e5858"/>
<stop offset="0.9925" stop-color="#8d5858"/>
<stop offset="0.9938" stop-color="#8c5858"/>
<stop offset="0.9950" stop-color="#8c5858"/>
<stop offset="0.9963" stop-color="#8b5858"/>
<stop offset="0.9975" stop-color="#8b5858"/>
<stop offset="0.9988" stop-color="#8a5858"/>
<stop offset="1.0000" stop-color="#8a5858"/>
</linearGradient></defs>
<rect x="84" y="20" width="1203" height="469" fill="url(#g)"/>
<g stroke-width="1" shape-rendering="crispEdges">
<line x1="141.5" y1="21" x2="141.5" y2="487" stroke="#9958b2" stroke-dasharray="3 3.9" stroke-dashoffset="5.1"/>
<line x1="201.5" y1="21" x2="201.5" y2="487" stroke="#8d58d7" stroke-dasharray="3 3.9" stroke-dashoffset="5.1"/>
<line x1="262.5" y1="21" x2="262.5" y2="487" stroke="#5858d7" stroke-dasharray="3 3.9" stroke-dashoffset="5.1"/>
<line x1="322.5" y1="21" x2="322.5" y2="487" stroke="#5894d7" stroke-dasharray="3 3.9" stroke-dashoffset="5.1"/>
<line x1="383.5" y1="21" x2="383.5" y2="487" stroke="#58c2d7" stroke-dasharray="3 3.9" stroke-dashoffset="5.1"/>
<line x1="443.5" y1="21" x2="443.5" y2="487" stroke="#58d7a2" stroke-dasharray="3 3.9" stroke-dashoffset="5.1"/>
<line x1="504.5" y1="21" x2="504.5" y2="487" stroke="#72d758" stroke-dasharray="3 3.9" stroke-dashoffset="5.1"/>
<line x1="564.5" y1="21" x2="564.5" y2="487" stroke="#98d758" stroke-dasharray="3 3.9" stroke-dashoffset="5.1"/>
<line x1="625.5" y1="21" x2="625.5" y2="487" stroke="#b9d758" stroke-dasharray="3 3.9" stroke-dashoffset="5.1"/>
<line x1="685.5" y1="21" x2="685.5" y2="487" stroke="#d7d758" stroke-dasharray="3 3.9" stroke-dashoffset="5.1"/>
<line x1="746.5" y1="21" x2="746.5" y2="487" stroke="#d7b758" stroke-dasharray="3 3.9" stroke-dashoffset="5.1"/>
<line x1="806.5" y1="21" x2="806.5" y2="487" stroke="#d79358" stroke-dasharray="3 3.9" stroke-dashoffset="5.1"/>
<line x1="867.5" y1="21" x2="867.5" y2="487" stroke="#d76858" stroke-dasharray="3 3.9" stroke-dashoffset="5.1"/>
<line x1="928.5" y1="21" x2="928.5" y2="487" stroke="#d75858" stroke-dasharray="3 3.9" stroke-dashoffset="5.1"/>
<line x1="988.5" y1="21" x2="988.5" y2="487" stroke="#d75858" stroke-dasharray="3 3.9" stroke-dashoffset="5.1"/>
<line x1="1049.5" y1="21" x2="1049.5" y2="487" stroke="#d75858" stroke-dasharray="3 3.9" stroke-dashoffset="5.1"/>
<line x1="1109.5" y1="21" x2="1109.5" y2="487" stroke="#c55858" stroke-dasharray="3 3.9" stroke-dashoffset="5.1"/>
<line x1="1170.5" y1="21" x2="1170.5" y2="487" stroke="#b25858" stroke-dasharray="3 3.9" stroke-dashoffset="5.1"/>
<line x1="1230.5" y1="21" x2="1230.5" y2="487" stroke="#9e5858" stroke-dasharray="3 3.9" stroke-dashoffset="5.1"/>
<line x1="86" y1="421.5" x2="1286" y2="421.5" stroke="url(#gd)" stroke-dasharray="3 3.98" stroke-dashoffset="3.48"/>
<line x1="86" y1="354.5" x2="1286" y2="354.5" stroke="url(#gd)" stroke-dasharray="3 3.98" stroke-dashoffset="3.48"/>
<line x1="86" y1="288.5" x2="1286" y2="288.5" stroke="url(#gd)" stroke-dasharray="3 3.98" stroke-dashoffset="3.48"/>
<line x1="86" y1="221.5" x2="1286" y2="221.5" stroke="url(#gd)" stroke-dasharray="3 3.98" stroke-dashoffset="3.48"/>
<line x1="86" y1="154.5" x2="1286" y2="154.5" stroke="url(#gd)" stroke-dasharray="3 3.98" stroke-dashoffset="3.48"/>
<line x1="86" y1="87.5" x2="1286" y2="87.5" stroke="url(#gd)" stroke-dasharray="3 3.98" stroke-dashoffset="3.48"/>
</g>
<line x1="293.5" y1="21" x2="293.5" y2="488" stroke="#2040a0" stroke-opacity="0.45" stroke-width="1" shape-rendering="crispEdges"/>
<polyline points="85.0,486.4 85.6,486.5 86.2,486.3 86.8,486.1 87.3,486.3 87.9,486.1 88.5,486.4 89.1,486.8 89.7,486.3 90.3,486.2 90.9,486.5 91.5,486.5 92.0,486.4 92.6,486.1 93.2,486.4 93.8,486.6 94.4,486.0 95.0,486.3 95.6,485.9 96.2,486.0 96.7,485.9 97.3,486.3 97.9,486.0 98.5,486.5 99.1,486.4 99.7,486.3 100.3,485.7 100.8,486.2 101.4,486.4 102.0,486.4 102.6,486.0 103.2,486.3 103.8,486.1 104.4,486.2 105.0,486.7 105.5,486.2 106.1,486.4 106.7,486.7 107.3,486.2 107.9,486.4 108.5,486.4 109.1,486.4 109.7,486.0 110.2,486.4 110.8,486.8 111.4,485.9 112.0,486.7 112.6,486.4 113.2,486.2 113.8,487.0 114.4,486.6 114.9,486.0 115.5,486.4 116.1,486.6 116.7,486.3 117.3,486.6 117.9,486.4 118.5,486.6 119.0,486.8 119.6,486.2 120.2,486.5 120.8,486.3 121.4,486.4 122.0,486.0 122.6,486.2 123.2,486.3 123.7,486.7 124.3,486.7 124.9,486.0 125.5,486.2 126.1,486.6 126.7,485.8 127.3,486.3 127.9,486.4 128.4,486.8 129.0,486.6 129.6,486.3 130.2,486.3 130.8,486.3 131.4,486.9 132.0,486.3 132.5,486.3 133.1,486.5 133.7,486.4 134.3,486.3 134.9,486.1 135.5,486.4 136.1,486.3 136.7,486.7 137.2,486.6 137.8,486.4 138.4,486.6 139.0,486.3 139.6,486.7 140.2,486.4 140.8,486.6 141.4,486.0 141.9,486.5 142.5,485.9 143.1,485.8 143.7,486.3 144.3,486.1 144.9,486.4 145.5,487.0 146.0,486.2 146.6,486.2 147.2,486.5 147.8,486.5 148.4,486.3 149.0,486.3 149.6,486.6 150.2,486.6 150.7,486.1 151.3,486.4 151.9,486.4 152.5,486.1 153.1,486.5 153.7,486.2 154.3,486.7 154.9,486.5 155.4,486.4 156.0,486.2 156.6,486.4 157.2,485.8 157.8,486.1 158.4,486.5 159.0,485.8 159.5,486.6 160.1,485.9 160.7,486.6 161.3,486.2 161.9,486.6 162.5,486.4 163.1,486.0 163.7,486.8 164.2,486.8 164.8,486.4 165.4,486.3 166.0,486.4 166.6,486.1 167.2,486.7 167.8,486.2 168.4,486.1 168.9,485.8 169.5,485.8 170.1,485.5 170.7,486.1 171.3,485.6 171.9,485.9 172.5,485.5 173.1,485.1 173.6,485.1 174.2,484.9 174.8,485.0 175.4,484.7 176.0,484.6 176.6,484.1 177.2,484.1 177.7,484.7 178.3,483.8 178.9,483.5 179.5,483.8 180.1,484.0 180.7,482.8 181.3,483.1 181.9,482.7 182.4,482.1 183.0,482.8 183.6,482.3 184.2,482.1 184.8,481.6 185.4,481.8 186.0,481.2 186.6,481.1 187.1,480.5 187.7,480.2 188.3,480.9 188.9,480.0 189.5,480.0 190.1,479.6 190.7,479.2 191.2,478.9 191.8,479.0 192.4,478.4 193.0,478.1 193.6,477.9 194.2,478.1 194.8,477.6 195.4,477.1 195.9,476.4 196.5,475.8 197.1,476.4 197.7,476.1 198.3,475.3 198.9,475.2 199.5,475.0 200.1,474.7 200.6,474.4 201.2,473.4 201.8,473.9 202.4,472.4 203.0,472.9 203.6,472.4 204.2,472.2 204.7,472.2 205.3,471.7 205.9,470.1 206.5,469.5 207.1,470.2 207.7,469.0 208.3,469.0 208.9,469.0 209.4,467.5 210.0,466.8 210.6,467.5 211.2,466.9 211.8,466.4 212.4,466.0 213.0,465.2 213.6,464.4 214.1,464.6 214.7,463.7 215.3,462.9 215.9,463.4 216.5,462.7 217.1,462.4 217.7,461.2 218.2,460.8 218.8,460.1 219.4,459.6 220.0,459.6 220.6,458.6 221.2,458.6 221.8,458.0 222.4,458.2 222.9,455.9 223.5,456.5 224.1,455.4 224.7,454.8 225.3,453.4 225.9,453.2 226.5,453.2 227.1,452.1 227.6,451.5 228.2,450.6 228.8,450.7 229.4,449.3 230.0,447.4 230.6,447.5 231.2,446.0 231.8,444.5 232.3,445.2 232.9,445.4 233.5,443.9 234.1,442.4 234.7,441.7 235.3,442.0 235.9,440.6 236.4,439.6 237.0,438.6 237.6,437.8 238.2,437.3 238.8,436.2 239.4,435.0 240.0,433.3 240.6,433.2 241.1,431.5 241.7,431.5 242.3,429.0 242.9,428.6 243.5,427.6 244.1,425.7 244.7,426.5 245.3,425.2 245.8,422.8 246.4,422.4 247.0,421.0 247.6,417.9 248.2,418.5 248.8,417.0 249.4,415.8 249.9,413.8 250.5,413.0 251.1,411.7 251.7,411.3 252.3,409.4 252.9,407.8 253.5,407.4 254.1,404.6 254.6,403.2 255.2,400.8 255.8,401.6 256.4,399.7 257.0,398.2 257.6,396.5 258.2,394.6 258.8,393.1 259.3,391.2 259.9,389.7 260.5,388.3 261.1,387.8 261.7,385.6 262.3,383.6 262.9,381.6 263.4,380.0 264.0,380.1 264.6,377.8 265.2,375.9 265.8,374.0 266.4,371.9 267.0,371.1 267.6,370.3 268.1,367.8 268.7,366.4 269.3,364.9 269.9,363.7 270.5,360.9 271.1,360.4 271.7,358.5 272.3,358.4 272.8,355.6 273.4,355.3 274.0,354.6 274.6,351.8 275.2,350.1 275.8,349.4 276.4,347.9 276.9,345.7 277.5,345.6 278.1,345.5 278.7,342.4 279.3,341.1 279.9,339.1 280.5,339.0 281.1,336.5 281.6,335.4 282.2,336.2 282.8,333.2 283.4,333.7 284.0,333.0 284.6,330.8 285.2,330.0 285.8,330.2 286.3,327.3 286.9,326.0 287.5,324.4 288.1,324.7 288.7,325.0 289.3,323.7 289.9,321.3 290.5,320.6 291.0,320.1 291.6,320.1 292.2,319.0 292.8,318.7 293.4,318.2 294.0,317.1 294.6,316.9 295.1,316.6 295.7,316.0 296.3,316.1 296.9,317.0 297.5,313.1 298.1,314.9 298.7,313.2 299.3,314.9 299.8,312.8 300.4,313.2 301.0,315.2 301.6,315.2 302.2,314.6 302.8,313.4 303.4,314.9 304.0,314.9 304.5,316.5 305.1,318.3 305.7,317.1 306.3,316.8 306.9,317.1 307.5,318.7 308.1,319.4 308.6,319.4 309.2,321.4 309.8,321.2 310.4,324.2 311.0,325.1 311.6,326.2 312.2,326.0 312.8,328.1 313.3,328.7 313.9,329.7 314.5,331.0 315.1,331.5 315.7,332.7 316.3,335.9 316.9,336.4 317.5,338.1 318.0,340.1 318.6,339.2 319.2,341.4 319.8,343.6 320.4,345.1 321.0,345.8 321.6,348.4 322.1,349.0 322.7,349.2 323.3,350.8 323.9,353.5 324.5,354.5 325.1,353.9 325.7,357.8 326.3,358.4 326.8,360.2 327.4,360.1 328.0,361.3 328.6,361.8 329.2,365.8 329.8,364.8 330.4,367.3 331.0,366.6 331.5,368.3 332.1,368.0 332.7,370.0 333.3,372.0 333.9,371.3 334.5,374.0 335.1,374.4 335.6,374.3 336.2,375.6 336.8,376.6 337.4,377.8 338.0,378.3 338.6,378.9 339.2,380.2 339.8,380.5 340.3,381.1 340.9,382.8 341.5,384.3 342.1,383.3 342.7,385.2 343.3,385.5 343.9,386.1 344.5,388.1 345.0,387.9 345.6,390.1 346.2,389.2 346.8,390.8 347.4,391.0 348.0,391.4 348.6,393.1 349.2,393.2 349.7,394.5 350.3,394.7 350.9,394.7 351.5,396.1 352.1,396.9 352.7,398.2 353.3,397.6 353.8,398.8 354.4,398.4 355.0,400.7 355.6,400.1 356.2,400.3 356.8,402.1 357.4,403.6 358.0,402.4 358.5,403.3 359.1,404.2 359.7,404.5 360.3,406.1 360.9,405.9 361.5,406.6 362.1,408.1 362.7,407.7 363.2,409.1 363.8,408.7 364.4,409.1 365.0,409.3 365.6,412.2 366.2,411.3 366.8,412.2 367.3,412.5 367.9,413.2 368.5,413.6 369.1,415.3 369.7,413.8 370.3,414.0 370.9,414.8 371.5,415.0 372.0,416.8 372.6,417.3 373.2,416.5 373.8,416.7 374.4,417.7 375.0,419.2 375.6,416.9 376.2,419.4 376.7,418.7 377.3,420.4 377.9,419.4 378.5,420.2 379.1,419.8 379.7,420.4 380.3,422.2 380.8,422.1 381.4,421.6 382.0,421.5 382.6,421.1 383.2,422.2 383.8,422.7 384.4,422.8 385.0,423.0 385.5,422.5 386.1,423.3 386.7,423.5 387.3,424.4 387.9,424.9 388.5,423.8 389.1,423.5 389.7,424.0 390.2,423.7 390.8,423.6 391.4,424.1 392.0,423.5 392.6,424.6 393.2,424.1 393.8,424.3 394.3,424.0 394.9,423.7 395.5,423.5 396.1,423.9 396.7,423.6 397.3,424.0 397.9,423.8 398.5,422.8 399.0,423.6 399.6,422.6 400.2,423.0 400.8,423.0 401.4,421.8 402.0,423.0 402.6,422.9 403.2,422.5 403.7,422.2 404.3,422.0 404.9,421.4 405.5,421.7 406.1,421.3 406.7,421.5 407.3,420.4 407.9,421.1 408.4,420.8 409.0,420.4 409.6,419.9 410.2,420.3 410.8,418.6 411.4,419.7 412.0,419.3 412.5,419.1 413.1,418.8 413.7,417.9 414.3,417.8 414.9,418.1 415.5,417.7 416.1,417.2 416.7,415.8 417.2,416.8 417.8,416.9 418.4,416.4 419.0,415.6 419.6,414.1 420.2,415.4 420.8,414.3 421.4,412.4 421.9,414.0 422.5,412.4 423.1,412.2 423.7,412.2 424.3,413.1 424.9,411.7 425.5,411.7 426.0,412.3 426.6,411.9 427.2,410.4 427.8,409.9 428.4,408.8 429.0,408.8 429.6,409.2 430.2,408.8 430.7,408.2 431.3,408.4 431.9,406.8 432.5,406.9 433.1,407.1 433.7,406.6 434.3,406.5 434.9,405.6 435.4,404.7 436.0,404.8 436.6,403.4 437.2,402.6 437.8,403.7 438.4,402.8 439.0,402.7 439.5,400.9 440.1,401.4 440.7,400.8 441.3,400.2 441.9,398.8 442.5,399.7 443.1,400.1 443.7,399.3 444.2,398.2 444.8,398.2 445.4,398.3 446.0,395.4 446.6,396.8 447.2,396.8 447.8,396.5 448.4,396.7 448.9,395.9 449.5,394.9 450.1,394.4 450.7,394.3 451.3,392.9 451.9,392.8 452.5,393.1 453.0,393.3 453.6,391.4 454.2,391.0 454.8,390.7 455.4,391.1 456.0,389.7 456.6,390.3 457.2,388.1 457.7,388.2 458.3,387.7 458.9,387.9 459.5,387.7 460.1,385.3 460.7,385.3 461.3,385.8 461.9,384.6 462.4,383.5 463.0,384.9 463.6,384.0 464.2,383.5 464.8,382.4 465.4,383.0 466.0,381.6 466.6,382.1 467.1,380.1 467.7,379.7 468.3,380.0 468.9,378.9 469.5,379.4 470.1,378.6 470.7,377.3 471.2,377.5 471.8,376.7 472.4,377.2 473.0,375.5 473.6,375.2 474.2,375.9 474.8,376.2 475.4,375.6 475.9,373.6 476.5,373.2 477.1,373.7 477.7,372.0 478.3,370.8 478.9,371.2 479.5,370.9 480.1,369.5 480.6,368.3 481.2,368.0 481.8,369.1 482.4,367.6 483.0,367.6 483.6,367.4 484.2,367.3 484.7,366.1 485.3,366.3 485.9,364.8 486.5,364.8 487.1,363.9 487.7,365.2 488.3,363.9 488.9,363.0 489.4,362.9 490.0,362.7 490.6,363.0 491.2,360.9 491.8,361.0 492.4,361.2 493.0,363.1 493.6,361.6 494.1,360.4 494.7,360.7 495.3,361.4 495.9,359.3 496.5,358.9 497.1,359.8 497.7,359.0 498.2,358.8 498.8,357.5 499.4,359.2 500.0,358.7 500.6,357.5 501.2,357.3 501.8,354.8 502.4,356.6 502.9,355.7 503.5,355.9 504.1,355.8 504.7,354.7 505.3,353.3 505.9,354.6 506.5,353.5 507.1,353.5 507.6,353.0 508.2,352.9 508.8,351.0 509.4,353.6 510.0,352.5 510.6,352.9 511.2,353.3 511.7,351.5 512.3,349.7 512.9,350.1 513.5,349.6 514.1,349.9 514.7,350.0 515.3,348.1 515.9,349.7 516.4,347.9 517.0,349.0 517.6,348.4 518.2,347.9 518.8,347.8 519.4,347.1 520.0,346.8 520.6,345.6 521.1,346.6 521.7,347.8 522.3,347.6 522.9,346.8 523.5,345.9 524.1,344.5 524.7,345.9 525.3,344.3 525.8,344.0 526.4,343.5 527.0,343.4 527.6,342.7 528.2,342.6 528.8,341.4 529.4,341.7 529.9,343.5 530.5,341.2 531.1,340.7 531.7,341.0 532.3,340.7 532.9,338.8 533.5,339.2 534.1,339.8 534.6,338.8 535.2,338.3 535.8,339.1 536.4,336.8 537.0,337.1 537.6,336.1 538.2,337.4 538.8,334.1 539.3,334.7 539.9,334.4 540.5,335.0 541.1,334.5 541.7,334.7 542.3,331.7 542.9,333.2 543.4,331.9 544.0,331.1 544.6,331.6 545.2,329.9 545.8,328.4 546.4,329.3 547.0,327.8 547.6,328.0 548.1,328.4 548.7,327.8 549.3,328.3 549.9,326.2 550.5,324.5 551.1,324.6 551.7,323.9 552.3,323.0 552.8,323.8 553.4,322.3 554.0,320.5 554.6,322.2 555.2,320.8 555.8,320.6 556.4,319.7 556.9,319.5 557.5,318.3 558.1,318.6 558.7,317.2 559.3,316.5 559.9,315.8 560.5,313.4 561.1,313.8 561.6,312.9 562.2,312.6 562.8,310.4 563.4,312.3 564.0,310.1 564.6,308.1 565.2,306.8 565.8,305.5 566.3,306.6 566.9,305.2 567.5,305.0 568.1,303.5 568.7,303.7 569.3,301.6 569.9,301.3 570.4,301.3 571.0,301.9 571.6,297.7 572.2,297.3 572.8,296.1 573.4,296.6 574.0,293.9 574.6,293.6 575.1,293.1 575.7,291.4 576.3,290.5 576.9,290.0 577.5,287.6 578.1,287.3 578.7,287.4 579.3,287.0 579.8,285.8 580.4,283.5 581.0,283.8 581.6,284.2 582.2,283.1 582.8,281.6 583.4,280.0 584.0,280.6 584.5,278.6 585.1,277.2 585.7,276.8 586.3,278.1 586.9,276.1 587.5,276.2 588.1,273.9 588.6,274.4 589.2,272.2 589.8,271.8 590.4,273.6 591.0,271.2 591.6,269.3 592.2,268.9 592.8,268.6 593.3,268.7 593.9,266.4 594.5,264.5 595.1,265.2 595.7,264.8 596.3,264.2 596.9,264.7 597.5,263.1 598.0,263.0 598.6,260.5 599.2,261.8 599.8,262.4 600.4,260.4 601.0,259.3 601.6,258.6 602.1,259.6 602.7,256.3 603.3,256.5 603.9,256.5 604.5,256.1 605.1,254.3 605.7,254.4 606.3,253.2 606.8,252.9 607.4,252.0 608.0,250.3 608.6,250.7 609.2,250.8 609.8,248.3 610.4,248.2 611.0,249.2 611.5,245.8 612.1,246.2 612.7,244.1 613.3,245.5 613.9,245.8 614.5,244.6 615.1,241.5 615.6,241.6 616.2,240.0 616.8,239.1 617.4,239.7 618.0,235.9 618.6,237.4 619.2,235.3 619.8,235.9 620.3,233.8 620.9,232.0 621.5,232.1 622.1,231.7 622.7,230.1 623.3,229.6 623.9,227.7 624.5,225.2 625.0,227.5 625.6,226.4 626.2,225.0 626.8,224.0 627.4,224.2 628.0,221.8 628.6,220.7 629.1,220.4 629.7,220.9 630.3,217.4 630.9,219.3 631.5,216.6 632.1,215.3 632.7,216.9 633.3,214.7 633.8,212.6 634.4,212.8 635.0,213.4 635.6,212.9 636.2,210.4 636.8,210.5 637.4,210.0 638.0,207.8 638.5,208.1 639.1,206.9 639.7,205.7 640.3,205.0 640.9,204.8 641.5,204.0 642.1,202.6 642.7,202.0 643.2,202.9 643.8,201.2 644.4,201.2 645.0,200.8 645.6,199.4 646.2,200.5 646.8,196.4 647.3,197.4 647.9,195.5 648.5,197.1 649.1,196.1 649.7,191.4 650.3,191.7 650.9,192.7 651.5,192.1 652.0,191.3 652.6,189.6 653.2,189.4 653.8,188.8 654.4,187.3 655.0,187.7 655.6,183.3 656.2,185.7 656.7,183.1 657.3,184.6 657.9,182.5 658.5,181.0 659.1,181.6 659.7,179.5 660.3,178.7 660.8,177.3 661.4,178.2 662.0,178.1 662.6,178.0 663.2,176.0 663.8,176.6 664.4,174.7 665.0,173.9 665.5,174.0 666.1,173.9 666.7,171.7 667.3,171.2 667.9,170.6 668.5,170.3 669.1,168.6 669.7,170.2 670.2,168.0 670.8,168.4 671.4,166.4 672.0,167.2 672.6,166.7 673.2,165.3 673.8,167.6 674.3,165.2 674.9,166.3 675.5,164.9 676.1,162.6 676.7,162.5 677.3,163.0 677.9,162.1 678.5,161.6 679.0,160.8 679.6,158.7 680.2,160.0 680.8,157.4 681.4,159.9 682.0,158.2 682.6,157.8 683.2,158.0 683.7,158.1 684.3,155.8 684.9,155.1 685.5,155.4 686.1,153.9 686.7,154.7 687.3,157.2 687.8,153.8 688.4,155.4 689.0,152.7 689.6,154.2 690.2,153.1 690.8,152.9 691.4,153.3 692.0,154.2 692.5,152.0 693.1,151.5 693.7,149.9 694.3,151.3 694.9,149.9 695.5,150.7 696.1,149.3 696.7,151.0 697.2,146.3 697.8,147.9 698.4,148.8 699.0,147.0 699.6,146.1 700.2,146.3 700.8,144.7 701.4,146.0 701.9,148.3 702.5,146.4 703.1,143.2 703.7,143.4 704.3,143.5 704.9,144.8 705.5,142.3 706.0,142.1 706.6,143.6 707.2,143.2 707.8,141.5 708.4,140.3 709.0,139.4 709.6,140.1 710.2,138.0 710.7,141.2 711.3,139.3 711.9,140.3 712.5,141.7 713.1,140.6 713.7,137.7 714.3,139.8 714.9,140.0 715.4,137.6 716.0,137.2 716.6,138.0 717.2,136.2 717.8,139.6 718.4,135.1 719.0,136.5 719.5,137.5 720.1,137.5 720.7,138.0 721.3,135.3 721.9,137.7 722.5,139.3 723.1,135.7 723.7,138.3 724.2,137.6 724.8,138.8 725.4,139.1 726.0,138.0 726.6,138.6 727.2,140.5 727.8,140.3 728.4,139.4 728.9,142.8 729.5,143.5 730.1,139.4 730.7,141.8 731.3,144.7 731.9,143.0 732.5,142.7 733.0,142.6 733.6,142.6 734.2,143.3 734.8,143.3 735.4,150.8 736.0,144.2 736.6,144.5 737.2,143.9 737.7,145.6 738.3,145.0 738.9,146.1 739.5,147.9 740.1,147.4 740.7,147.9 741.3,148.1 741.9,150.5 742.4,148.2 743.0,148.4 743.6,150.0 744.2,148.2 744.8,151.4 745.4,150.3 746.0,149.8 746.5,150.5 747.1,150.7 747.7,152.1 748.3,151.6 748.9,154.2 749.5,152.5 750.1,151.3 750.7,153.6 751.2,152.7 751.8,155.5 752.4,157.3 753.0,157.4 753.6,155.7 754.2,157.0 754.8,160.5 755.4,159.5 755.9,159.8 756.5,161.6 757.1,163.8 757.7,163.2 758.3,162.6 758.9,163.5 759.5,164.5 760.1,166.5 760.6,164.1 761.2,166.1 761.8,165.7 762.4,167.4 763.0,168.3 763.6,171.6 764.2,168.8 764.7,170.4 765.3,171.2 765.9,172.6 766.5,171.4 767.1,173.2 767.7,173.7 768.3,173.6 768.9,175.2 769.4,177.7 770.0,178.0 770.6,177.7 771.2,179.3 771.8,180.6 772.4,182.0 773.0,181.7 773.6,182.9 774.1,182.1 774.7,183.7 775.3,187.6 775.9,184.4 776.5,187.2 777.1,188.7 777.7,188.9 778.2,189.3 778.8,191.0 779.4,191.9 780.0,192.7 780.6,191.6 781.2,194.2 781.8,194.3 782.4,195.4 782.9,197.1 783.5,198.3 784.1,199.4 784.7,198.7 785.3,200.9 785.9,202.0 786.5,202.7 787.1,203.7 787.6,202.8 788.2,203.5 788.8,205.3 789.4,203.8 790.0,206.2 790.6,206.1 791.2,207.0 791.7,206.3 792.3,207.9 792.9,209.6 793.5,211.3 794.1,212.1 794.7,211.7 795.3,212.3 795.9,212.4 796.4,214.4 797.0,214.5 797.6,216.2 798.2,218.1 798.8,217.0 799.4,216.3 800.0,217.7 800.6,217.9 801.1,218.9 801.7,222.3 802.3,222.0 802.9,221.0 803.5,224.1 804.1,225.5 804.7,224.7 805.2,225.2 805.8,226.4 806.4,227.9 807.0,229.1 807.6,230.5 808.2,231.4 808.8,232.2 809.4,233.2 809.9,233.4 810.5,232.0 811.1,234.3 811.7,235.6 812.3,235.8 812.9,238.0 813.5,237.5 814.1,237.8 814.6,241.1 815.2,241.2 815.8,241.6 816.4,243.1 817.0,244.1 817.6,244.2 818.2,242.3 818.8,244.9 819.3,246.0 819.9,246.3 820.5,248.3 821.1,250.1 821.7,249.3 822.3,249.4 822.9,253.4 823.4,251.7 824.0,251.8 824.6,254.0 825.2,255.0 825.8,254.7 826.4,256.9 827.0,256.5 827.6,256.8 828.1,258.7 828.7,260.0 829.3,259.5 829.9,261.2 830.5,261.5 831.1,265.1 831.7,262.5 832.3,265.3 832.8,264.7 833.4,265.4 834.0,267.0 834.6,267.9 835.2,269.1 835.8,268.9 836.4,268.8 836.9,269.7 837.5,271.5 838.1,272.3 838.7,273.9 839.3,273.8 839.9,275.2 840.5,276.5 841.1,276.0 841.6,275.3 842.2,276.4 842.8,277.0 843.4,280.7 844.0,279.2 844.6,282.0 845.2,282.3 845.8,284.2 846.3,284.3 846.9,284.1 847.5,284.9 848.1,286.0 848.7,287.0 849.3,287.2 849.9,288.5 850.4,290.8 851.0,288.6 851.6,291.3 852.2,291.1 852.8,292.9 853.4,294.4 854.0,294.4 854.6,296.0 855.1,294.7 855.7,298.0 856.3,297.2 856.9,299.2 857.5,299.6 858.1,298.0 858.7,300.4 859.3,302.2 859.8,304.2 860.4,303.9 861.0,304.7 861.6,304.0 862.2,307.4 862.8,308.5 863.4,307.7 863.9,308.3 864.5,307.9 865.1,310.9 865.7,313.3 866.3,312.3 866.9,313.6 867.5,313.7 868.1,313.2 868.6,316.0 869.2,314.5 869.8,316.1 870.4,317.3 871.0,318.5 871.6,318.9 872.2,319.6 872.8,319.3 873.3,319.5 873.9,321.4 874.5,321.4 875.1,321.6 875.7,322.3 876.3,323.7 876.9,323.1 877.5,324.2 878.0,324.6 878.6,326.8 879.2,327.6 879.8,329.6 880.4,327.3 881.0,328.6 881.6,330.5 882.1,330.2 882.7,330.7 883.3,333.0 883.9,331.9 884.5,331.8 885.1,332.3 885.7,334.2 886.3,334.8 886.8,334.0 887.4,334.9 888.0,336.8 888.6,337.4 889.2,337.0 889.8,338.6 890.4,339.2 891.0,337.8 891.5,339.6 892.1,340.8 892.7,340.6 893.3,339.9 893.9,342.1 894.5,343.5 895.1,344.8 895.6,342.4 896.2,346.9 896.8,344.5 897.4,346.8 898.0,347.7 898.6,348.1 899.2,348.1 899.8,347.7 900.3,349.8 900.9,349.3 901.5,348.5 902.1,353.5 902.7,352.5 903.3,354.0 903.9,352.5 904.5,355.1 905.0,355.8 905.6,356.5 906.2,355.9 906.8,355.7 907.4,357.2 908.0,356.2 908.6,357.3 909.1,359.4 909.7,359.2 910.3,360.6 910.9,361.3 911.5,363.5 912.1,363.7 912.7,363.3 913.3,364.9 913.8,364.0 914.4,364.9 915.0,366.5 915.6,365.4 916.2,366.8 916.8,366.5 917.4,368.2 918.0,370.0 918.5,368.7 919.1,370.0 919.7,369.7 920.3,370.0 920.9,370.5 921.5,373.0 922.1,374.2 922.6,373.3 923.2,372.9 923.8,374.4 924.4,374.1 925.0,375.5 925.6,375.5 926.2,376.0 926.8,376.7 927.3,376.2 927.9,376.8 928.5,376.2 929.1,377.6 929.7,377.3 930.3,378.7 930.9,378.5 931.5,379.7 932.0,380.3 932.6,379.3 933.2,380.2 933.8,380.4 934.4,382.1 935.0,383.2 935.6,382.9 936.2,382.4 936.7,384.1 937.3,382.3 937.9,384.8 938.5,383.6 939.1,382.4 939.7,386.7 940.3,386.3 940.8,384.8 941.4,386.0 942.0,386.1 942.6,386.7 943.2,385.9 943.8,386.8 944.4,388.0 945.0,388.2 945.5,389.2 946.1,388.8 946.7,390.8 947.3,388.9 947.9,390.0 948.5,388.8 949.1,389.7 949.7,391.9 950.2,390.6 950.8,392.0 951.4,392.0 952.0,391.7 952.6,392.5 953.2,392.8 953.8,393.2 954.3,394.4 954.9,394.7 955.5,394.2 956.1,394.4 956.7,395.6 957.3,395.7 957.9,396.9 958.5,398.4 959.0,397.6 959.6,397.3 960.2,397.6 960.8,397.6 961.4,397.9 962.0,398.3 962.6,399.1 963.2,399.5 963.7,400.7 964.3,400.3 964.9,400.9 965.5,400.6 966.1,403.0 966.7,402.6 967.3,403.9 967.8,403.7 968.4,404.6 969.0,403.9 969.6,405.0 970.2,406.8 970.8,404.5 971.4,406.6 972.0,407.4 972.5,407.0 973.1,407.7 973.7,408.6 974.3,407.7 974.9,408.9 975.5,408.6 976.1,409.2 976.7,409.7 977.2,410.5 977.8,411.2 978.4,411.9 979.0,411.1 979.6,413.9 980.2,413.8 980.8,414.0 981.3,413.8 981.9,414.4 982.5,415.3 983.1,415.6 983.7,414.7 984.3,416.7 984.9,418.6 985.5,415.9 986.0,418.2 986.6,418.2 987.2,418.3 987.8,419.6 988.4,418.4 989.0,419.6 989.6,420.8 990.2,420.1 990.7,420.3 991.3,421.0 991.9,421.0 992.5,422.6 993.1,421.3 993.7,422.7 994.3,421.6 994.9,423.1 995.4,422.9 996.0,421.6 996.6,423.5 997.2,423.1 997.8,423.7 998.4,425.2 999.0,423.8 999.5,424.0 1000.1,425.9 1000.7,425.3 1001.3,426.4 1001.9,425.8 1002.5,425.3 1003.1,426.0 1003.7,427.1 1004.2,427.1 1004.8,426.7 1005.4,427.0 1006.0,427.1 1006.6,427.0 1007.2,428.8 1007.8,427.9 1008.4,427.4 1008.9,428.0 1009.5,429.0 1010.1,429.1 1010.7,428.9 1011.3,428.8 1011.9,429.4 1012.5,428.6 1013.0,429.1 1013.6,430.6 1014.2,430.1 1014.8,430.8 1015.4,431.6 1016.0,431.5 1016.6,431.4 1017.2,432.9 1017.7,432.3 1018.3,431.9 1018.9,432.9 1019.5,432.9 1020.1,432.4 1020.7,433.3 1021.3,433.4 1021.9,432.6 1022.4,434.0 1023.0,434.2 1023.6,434.4 1024.2,434.0 1024.8,435.1 1025.4,435.5 1026.0,435.9 1026.5,435.5 1027.1,436.8 1027.7,436.0 1028.3,436.9 1028.9,438.1 1029.5,437.2 1030.1,437.7 1030.7,438.9 1031.2,438.3 1031.8,438.7 1032.4,439.3 1033.0,440.1 1033.6,438.4 1034.2,439.5 1034.8,439.7 1035.4,440.0 1035.9,440.4 1036.5,440.7 1037.1,441.6 1037.7,441.2 1038.3,442.1 1038.9,442.5 1039.5,442.1 1040.0,442.9 1040.6,444.0 1041.2,443.5 1041.8,443.2 1042.4,443.8 1043.0,443.6 1043.6,444.5 1044.2,445.1 1044.7,444.4 1045.3,445.0 1045.9,446.0 1046.5,445.3 1047.1,445.9 1047.7,445.5 1048.3,445.8 1048.9,446.2 1049.4,447.9 1050.0,446.8 1050.6,446.9 1051.2,447.2 1051.8,447.6 1052.4,448.3 1053.0,448.2 1053.6,449.5 1054.1,448.7 1054.7,449.6 1055.3,449.2 1055.9,449.5 1056.5,448.7 1057.1,449.6 1057.7,449.8 1058.2,449.9 1058.8,449.1 1059.4,451.0 1060.0,450.5 1060.6,450.7 1061.2,451.0 1061.8,451.2 1062.4,451.7 1062.9,451.0 1063.5,451.4 1064.1,452.3 1064.7,452.4 1065.3,452.3 1065.9,452.4 1066.5,452.5 1067.1,453.1 1067.6,453.9 1068.2,452.9 1068.8,454.5 1069.4,454.3 1070.0,453.8 1070.6,454.6 1071.2,453.7 1071.7,453.7 1072.3,454.1 1072.9,454.8 1073.5,455.0 1074.1,455.1 1074.7,455.6 1075.3,454.6 1075.9,456.2 1076.4,455.4 1077.0,455.9 1077.6,456.2 1078.2,456.0 1078.8,456.1 1079.4,456.5 1080.0,457.1 1080.6,457.6 1081.1,457.8 1081.7,457.2 1082.3,457.5 1082.9,457.6 1083.5,458.4 1084.1,457.3 1084.7,459.1 1085.2,458.5 1085.8,458.5 1086.4,459.2 1087.0,459.7 1087.6,459.5 1088.2,460.0 1088.8,459.8 1089.4,460.5 1089.9,460.6 1090.5,460.1 1091.1,461.0 1091.7,460.6 1092.3,460.7 1092.9,460.4 1093.5,460.8 1094.1,461.5 1094.6,460.7 1095.2,461.8 1095.8,461.8 1096.4,461.9 1097.0,460.9 1097.6,462.0 1098.2,462.5 1098.7,462.0 1099.3,462.6 1099.9,461.5 1100.5,463.1 1101.1,462.6 1101.7,463.5 1102.3,462.4 1102.9,463.7 1103.4,463.4 1104.0,464.1 1104.6,463.4 1105.2,463.7 1105.8,465.2 1106.4,463.9 1107.0,464.1 1107.6,464.4 1108.1,464.2 1108.7,465.4 1109.3,465.8 1109.9,464.8 1110.5,464.4 1111.1,465.9 1111.7,466.0 1112.3,466.0 1112.8,466.3 1113.4,465.5 1114.0,466.0 1114.6,465.5 1115.2,465.7 1115.8,466.9 1116.4,466.3 1116.9,467.7 1117.5,466.9 1118.1,466.7 1118.7,467.4 1119.3,468.0 1119.9,467.6 1120.5,466.9 1121.1,467.8 1121.6,468.3 1122.2,467.6 1122.8,467.6 1123.4,468.5 1124.0,468.3 1124.6,467.8 1125.2,468.3 1125.8,468.2 1126.3,468.8 1126.9,468.9 1127.5,469.4 1128.1,469.4 1128.7,468.5 1129.3,469.5 1129.9,469.8 1130.4,469.7 1131.0,470.1 1131.6,469.5 1132.2,469.4 1132.8,470.4 1133.4,469.6 1134.0,469.3 1134.6,470.7 1135.1,470.1 1135.7,470.4 1136.3,470.0 1136.9,470.2 1137.5,470.4 1138.1,470.8 1138.7,471.2 1139.3,470.2 1139.8,471.6 1140.4,470.9 1141.0,471.0 1141.6,471.9 1142.2,471.7 1142.8,471.1 1143.4,472.7 1143.9,471.6 1144.5,472.2 1145.1,472.3 1145.7,472.9 1146.3,472.2 1146.9,472.9 1147.5,472.3 1148.1,473.2 1148.6,472.5 1149.2,472.8 1149.8,473.8 1150.4,473.2 1151.0,473.2 1151.6,474.2 1152.2,473.5 1152.8,473.1 1153.3,473.9 1153.9,473.2 1154.5,474.2 1155.1,474.4 1155.7,473.7 1156.3,473.8 1156.9,474.2 1157.4,474.2 1158.0,473.9 1158.6,474.6 1159.2,473.7 1159.8,474.4 1160.4,474.5 1161.0,474.7 1161.6,475.0 1162.1,474.4 1162.7,475.3 1163.3,475.0 1163.9,474.9 1164.5,474.7 1165.1,474.9 1165.7,475.6 1166.3,475.1 1166.8,475.6 1167.4,476.1 1168.0,476.2 1168.6,476.5 1169.2,475.8 1169.8,475.6 1170.4,476.5 1171.0,476.3 1171.5,476.7 1172.1,476.4 1172.7,476.9 1173.3,476.8 1173.9,476.9 1174.5,476.9 1175.1,476.9 1175.6,476.9 1176.2,477.0 1176.8,477.4 1177.4,476.8 1178.0,477.8 1178.6,477.1 1179.2,477.6 1179.8,477.3 1180.3,477.3 1180.9,478.3 1181.5,477.4 1182.1,477.1 1182.7,477.4 1183.3,477.6 1183.9,478.7 1184.5,478.0 1185.0,478.3 1185.6,477.7 1186.2,478.3 1186.8,478.4 1187.4,478.9 1188.0,478.1 1188.6,478.6 1189.1,478.6 1189.7,478.1 1190.3,478.6 1190.9,478.6 1191.5,477.8 1192.1,479.0 1192.7,479.0 1193.3,478.7 1193.8,478.5 1194.4,479.6 1195.0,479.2 1195.6,479.5 1196.2,479.7 1196.8,479.1 1197.4,479.6 1198.0,479.3 1198.5,479.4 1199.1,479.5 1199.7,479.6 1200.3,480.1 1200.9,479.7 1201.5,479.7 1202.1,479.7 1202.6,480.0 1203.2,479.6 1203.8,479.8 1204.4,480.0 1205.0,479.9 1205.6,480.1 1206.2,480.0 1206.8,481.0 1207.3,480.8 1207.9,480.5 1208.5,480.4 1209.1,481.3 1209.7,480.7 1210.3,480.6 1210.9,480.7 1211.5,480.8 1212.0,481.2 1212.6,480.8 1213.2,481.6 1213.8,480.6 1214.4,481.2 1215.0,480.6 1215.6,481.7 1216.1,481.0 1216.7,481.1 1217.3,481.5 1217.9,481.7 1218.5,480.9 1219.1,481.2 1219.7,480.9 1220.3,481.5 1220.8,481.4 1221.4,481.4 1222.0,481.3 1222.6,481.5 1223.2,481.4 1223.8,481.9 1224.4,482.3 1225.0,481.1 1225.5,481.8 1226.1,481.7 1226.7,482.1 1227.3,481.6 1227.9,481.9 1228.5,481.7 1229.1,482.3 1229.7,482.2 1230.2,482.1 1230.8,482.3 1231.4,482.2 1232.0,481.7 1232.6,482.5 1233.2,482.5 1233.8,482.3 1234.3,482.8 1234.9,482.9 1235.5,482.1 1236.1,482.3 1236.7,483.1 1237.3,483.1 1237.9,482.4 1238.5,482.3 1239.0,482.5 1239.6,482.6 1240.2,482.3 1240.8,482.8 1241.4,482.4 1242.0,482.5 1242.6,483.2 1243.2,482.7 1243.7,483.0 1244.3,483.2 1244.9,483.3 1245.5,483.0 1246.1,483.1 1246.7,482.9 1247.3,483.8 1247.8,483.4 1248.4,482.9 1249.0,483.3 1249.6,483.6 1250.2,483.5 1250.8,484.0 1251.4,483.9 1252.0,483.3 1252.5,483.4 1253.1,483.1 1253.7,483.6 1254.3,483.6 1254.9,484.5 1255.5,483.6 1256.1,482.9 1256.7,483.4 1257.2,483.7 1257.8,483.3 1258.4,483.4 1259.0,483.6 1259.6,483.9 1260.2,483.8 1260.8,483.5 1261.3,484.1 1261.9,483.7 1262.5,483.7 1263.1,483.5 1263.7,483.7 1264.3,484.2 1264.9,483.5 1265.5,484.0 1266.0,484.3 1266.6,483.9 1267.2,484.2 1267.8,483.7 1268.4,484.6 1269.0,484.5 1269.6,484.2 1270.2,483.6 1270.7,483.9 1271.3,484.5 1271.9,484.8 1272.5,484.4 1273.1,484.7 1273.7,484.1 1274.3,484.3 1274.8,484.4 1275.4,484.5 1276.0,483.9 1276.6,484.7 1277.2,484.8 1277.8,484.1 1278.4,484.0 1279.0,484.6 1279.5,484.3 1280.1,483.7 1280.7,484.8 1281.3,484.6 1281.9,484.4 1282.5,485.2 1283.1,484.6 1283.7,484.4 1284.2,484.6 1284.8,484.3 1285.4,484.4 1286.0,484.8 1286.6,484.5" fill="none" stroke="#1212c8" stroke-width="1.0" stroke-linejoin="round"/>
<g shape-rendering="crispEdges" fill="none">
<rect x="85.5" y="20.5" width="1201" height="467" stroke="#000" stroke-opacity="0.5"/>
<line x1="84" y1="488.5" x2="1287" y2="488.5" stroke="#000"/>
<rect x="86" y="21" width="4" height="466" fill="#fff" fill-opacity="0.1" stroke="none"/>
<line x1="84.5" y1="20" x2="84.5" y2="489" stroke="#000"/>
</g>
<g stroke="#7a7a7a" stroke-width="1" shape-rendering="crispEdges">
<line x1="92.5" y1="487" x2="92.5" y2="492"/>
<line x1="104.5" y1="487" x2="104.5" y2="492"/>
<line x1="117.5" y1="487" x2="117.5" y2="492"/>
<line x1="129.5" y1="487" x2="129.5" y2="492"/>
<line x1="141.5" y1="487" x2="141.5" y2="494"/>
<line x1="153.5" y1="487" x2="153.5" y2="492"/>
<line x1="165.5" y1="487" x2="165.5" y2="492"/>
<line x1="177.5" y1="487" x2="177.5" y2="492"/>
<line x1="189.5" y1="487" x2="189.5" y2="492"/>
<line x1="201.5" y1="487" x2="201.5" y2="494"/>
<line x1="213.5" y1="487" x2="213.5" y2="492"/>
<line x1="225.5" y1="487" x2="225.5" y2="492"/>
<line x1="238.5" y1="487" x2="238.5" y2="492"/>
<line x1="250.5" y1="487" x2="250.5" y2="492"/>
<line x1="262.5" y1="487" x2="262.5" y2="494"/>
<line x1="274.5" y1="487" x2="274.5" y2="492"/>
<line x1="286.5" y1="487" x2="286.5" y2="492"/>
<line x1="298.5" y1="487" x2="298.5" y2="492"/>
<line x1="310.5" y1="487" x2="310.5" y2="492"/>
<line x1="322.5" y1="487" x2="322.5" y2="494"/>
<line x1="334.5" y1="487" x2="334.5" y2="492"/>
<line x1="346.5" y1="487" x2="346.5" y2="492"/>
<line x1="358.5" y1="487" x2="358.5" y2="492"/>
<line x1="371.5" y1="487" x2="371.5" y2="492"/>
<line x1="383.5" y1="487" x2="383.5" y2="494"/>
<line x1="395.5" y1="487" x2="395.5" y2="492"/>
<line x1="407.5" y1="487" x2="407.5" y2="492"/>
<line x1="419.5" y1="487" x2="419.5" y2="492"/>
<line x1="431.5" y1="487" x2="431.5" y2="492"/>
<line x1="443.5" y1="487" x2="443.5" y2="494"/>
<line x1="455.5" y1="487" x2="455.5" y2="492"/>
<line x1="467.5" y1="487" x2="467.5" y2="492"/>
<line x1="480.5" y1="487" x2="480.5" y2="492"/>
<line x1="492.5" y1="487" x2="492.5" y2="492"/>
<line x1="504.5" y1="487" x2="504.5" y2="494"/>
<line x1="516.5" y1="487" x2="516.5" y2="492"/>
<line x1="528.5" y1="487" x2="528.5" y2="492"/>
<line x1="540.5" y1="487" x2="540.5" y2="492"/>
<line x1="552.5" y1="487" x2="552.5" y2="492"/>
<line x1="564.5" y1="487" x2="564.5" y2="494"/>
<line x1="576.5" y1="487" x2="576.5" y2="492"/>
<line x1="588.5" y1="487" x2="588.5" y2="492"/>
<line x1="601.5" y1="487" x2="601.5" y2="492"/>
<line x1="613.5" y1="487" x2="613.5" y2="492"/>
<line x1="625.5" y1="487" x2="625.5" y2="494"/>
<line x1="637.5" y1="487" x2="637.5" y2="492"/>
<line x1="649.5" y1="487" x2="649.5" y2="492"/>
<line x1="661.5" y1="487" x2="661.5" y2="492"/>
<line x1="673.5" y1="487" x2="673.5" y2="492"/>
<line x1="685.5" y1="487" x2="685.5" y2="494"/>
<line x1="697.5" y1="487" x2="697.5" y2="492"/>
<line x1="709.5" y1="487" x2="709.5" y2="492"/>
<line x1="722.5" y1="487" x2="722.5" y2="492"/>
<line x1="734.5" y1="487" x2="734.5" y2="492"/>
<line x1="746.5" y1="487" x2="746.5" y2="494"/>
<line x1="758.5" y1="487" x2="758.5" y2="492"/>
<line x1="770.5" y1="487" x2="770.5" y2="492"/>
<line x1="782.5" y1="487" x2="782.5" y2="492"/>
<line x1="794.5" y1="487" x2="794.5" y2="492"/>
<line x1="806.5" y1="487" x2="806.5" y2="494"/>
<line x1="818.5" y1="487" x2="818.5" y2="492"/>
<line x1="830.5" y1="487" x2="830.5" y2="492"/>
<line x1="843.5" y1="487" x2="843.5" y2="492"/>
<line x1="855.5" y1="487" x2="855.5" y2="492"/>
<line x1="867.5" y1="487" x2="867.5" y2="494"/>
<line x1="879.5" y1="487" x2="879.5" y2="492"/>
<line x1="891.5" y1="487" x2="891.5" y2="492"/>
<line x1="903.5" y1="487" x2="903.5" y2="492"/>
<line x1="915.5" y1="487" x2="915.5" y2="492"/>
<line x1="928.5" y1="487" x2="928.5" y2="494"/>
<line x1="939.5" y1="487" x2="939.5" y2="492"/>
<line x1="951.5" y1="487" x2="951.5" y2="492"/>
<line x1="964.5" y1="487" x2="964.5" y2="492"/>
<line x1="976.5" y1="487" x2="976.5" y2="492"/>
<line x1="988.5" y1="487" x2="988.5" y2="494"/>
<line x1="1000.5" y1="487" x2="1000.5" y2="492"/>
<line x1="1012.5" y1="487" x2="1012.5" y2="492"/>
<line x1="1024.5" y1="487" x2="1024.5" y2="492"/>
<line x1="1036.5" y1="487" x2="1036.5" y2="492"/>
<line x1="1049.5" y1="487" x2="1049.5" y2="494"/>
<line x1="1060.5" y1="487" x2="1060.5" y2="492"/>
<line x1="1072.5" y1="487" x2="1072.5" y2="492"/>
<line x1="1085.5" y1="487" x2="1085.5" y2="492"/>
<line x1="1097.5" y1="487" x2="1097.5" y2="492"/>
<line x1="1109.5" y1="487" x2="1109.5" y2="494"/>
<line x1="1121.5" y1="487" x2="1121.5" y2="492"/>
<line x1="1133.5" y1="487" x2="1133.5" y2="492"/>
<line x1="1145.5" y1="487" x2="1145.5" y2="492"/>
<line x1="1157.5" y1="487" x2="1157.5" y2="492"/>
<line x1="1170.5" y1="487" x2="1170.5" y2="494"/>
<line x1="1181.5" y1="487" x2="1181.5" y2="492"/>
<line x1="1193.5" y1="487" x2="1193.5" y2="492"/>
<line x1="1206.5" y1="487" x2="1206.5" y2="492"/>
<line x1="1218.5" y1="487" x2="1218.5" y2="492"/>
<line x1="1230.5" y1="487" x2="1230.5" y2="494"/>
<line x1="1242.5" y1="487" x2="1242.5" y2="492"/>
<line x1="1254.5" y1="487" x2="1254.5" y2="492"/>
<line x1="1266.5" y1="487" x2="1266.5" y2="492"/>
<line x1="1278.5" y1="487" x2="1278.5" y2="492"/>
<line x1="80" y1="488.5" x2="85" y2="488.5"/>
<line x1="82" y1="481.5" x2="85" y2="481.5" stroke="#a0a0a0"/>
<line x1="82" y1="475.5" x2="85" y2="475.5" stroke="#a0a0a0"/>
<line x1="82" y1="468.5" x2="85" y2="468.5" stroke="#a0a0a0"/>
<line x1="82" y1="461.5" x2="85" y2="461.5" stroke="#a0a0a0"/>
<line x1="80" y1="455.5" x2="85" y2="455.5"/>
<line x1="82" y1="448.5" x2="85" y2="448.5" stroke="#a0a0a0"/>
<line x1="82" y1="441.5" x2="85" y2="441.5" stroke="#a0a0a0"/>
<line x1="82" y1="435.5" x2="85" y2="435.5" stroke="#a0a0a0"/>
<line x1="82" y1="428.5" x2="85" y2="428.5" stroke="#a0a0a0"/>
<line x1="80" y1="421.5" x2="85" y2="421.5"/>
<line x1="82" y1="415.5" x2="85" y2="415.5" stroke="#a0a0a0"/>
<line x1="82" y1="408.5" x2="85" y2="408.5" stroke="#a0a0a0"/>
<line x1="82" y1="401.5" x2="85" y2="401.5" stroke="#a0a0a0"/>
<line x1="82" y1="395.5" x2="85" y2="395.5" stroke="#a0a0a0"/>
<line x1="80" y1="388.5" x2="85" y2="388.5"/>
<line x1="82" y1="381.5" x2="85" y2="381.5" stroke="#a0a0a0"/>
<line x1="82" y1="374.5" x2="85" y2="374.5" stroke="#a0a0a0"/>
<line x1="82" y1="368.5" x2="85" y2="368.5" stroke="#a0a0a0"/>
<line x1="82" y1="361.5" x2="85" y2="361.5" stroke="#a0a0a0"/>
<line x1="80" y1="354.5" x2="85" y2="354.5"/>
<line x1="82" y1="348.5" x2="85" y2="348.5" stroke="#a0a0a0"/>
<line x1="82" y1="341.5" x2="85" y2="341.5" stroke="#a0a0a0"/>
<line x1="82" y1="334.5" x2="85" y2="334.5" stroke="#a0a0a0"/>
<line x1="82" y1="328.5" x2="85" y2="328.5" stroke="#a0a0a0"/>
<line x1="80" y1="321.5" x2="85" y2="321.5"/>
<line x1="82" y1="314.5" x2="85" y2="314.5" stroke="#a0a0a0"/>
<line x1="82" y1="308.5" x2="85" y2="308.5" stroke="#a0a0a0"/>
<line x1="82" y1="301.5" x2="85" y2="301.5" stroke="#a0a0a0"/>
<line x1="82" y1="294.5" x2="85" y2="294.5" stroke="#a0a0a0"/>
<line x1="80" y1="288.5" x2="85" y2="288.5"/>
<line x1="82" y1="281.5" x2="85" y2="281.5" stroke="#a0a0a0"/>
<line x1="82" y1="274.5" x2="85" y2="274.5" stroke="#a0a0a0"/>
<line x1="82" y1="267.5" x2="85" y2="267.5" stroke="#a0a0a0"/>
<line x1="82" y1="261.5" x2="85" y2="261.5" stroke="#a0a0a0"/>
<line x1="80" y1="254.5" x2="85" y2="254.5"/>
<line x1="82" y1="247.5" x2="85" y2="247.5" stroke="#a0a0a0"/>
<line x1="82" y1="241.5" x2="85" y2="241.5" stroke="#a0a0a0"/>
<line x1="82" y1="234.5" x2="85" y2="234.5" stroke="#a0a0a0"/>
<line x1="82" y1="227.5" x2="85" y2="227.5" stroke="#a0a0a0"/>
<line x1="80" y1="221.5" x2="85" y2="221.5"/>
<line x1="82" y1="214.5" x2="85" y2="214.5" stroke="#a0a0a0"/>
<line x1="82" y1="207.5" x2="85" y2="207.5" stroke="#a0a0a0"/>
<line x1="82" y1="201.5" x2="85" y2="201.5" stroke="#a0a0a0"/>
<line x1="82" y1="194.5" x2="85" y2="194.5" stroke="#a0a0a0"/>
<line x1="80" y1="187.5" x2="85" y2="187.5"/>
<line x1="82" y1="181.5" x2="85" y2="181.5" stroke="#a0a0a0"/>
<line x1="82" y1="174.5" x2="85" y2="174.5" stroke="#a0a0a0"/>
<line x1="82" y1="167.5" x2="85" y2="167.5" stroke="#a0a0a0"/>
<line x1="82" y1="161.5" x2="85" y2="161.5" stroke="#a0a0a0"/>
<line x1="80" y1="154.5" x2="85" y2="154.5"/>
<line x1="82" y1="147.5" x2="85" y2="147.5" stroke="#a0a0a0"/>
<line x1="82" y1="140.5" x2="85" y2="140.5" stroke="#a0a0a0"/>
<line x1="82" y1="134.5" x2="85" y2="134.5" stroke="#a0a0a0"/>
<line x1="82" y1="127.5" x2="85" y2="127.5" stroke="#a0a0a0"/>
<line x1="80" y1="120.5" x2="85" y2="120.5"/>
<line x1="82" y1="114.5" x2="85" y2="114.5" stroke="#a0a0a0"/>
<line x1="82" y1="107.5" x2="85" y2="107.5" stroke="#a0a0a0"/>
<line x1="82" y1="100.5" x2="85" y2="100.5" stroke="#a0a0a0"/>
<line x1="82" y1="94.5" x2="85" y2="94.5" stroke="#a0a0a0"/>
<line x1="80" y1="87.5" x2="85" y2="87.5"/>
<line x1="82" y1="80.5" x2="85" y2="80.5" stroke="#a0a0a0"/>
<line x1="82" y1="74.5" x2="85" y2="74.5" stroke="#a0a0a0"/>
<line x1="82" y1="67.5" x2="85" y2="67.5" stroke="#a0a0a0"/>
<line x1="82" y1="60.5" x2="85" y2="60.5" stroke="#a0a0a0"/>
<line x1="80" y1="54.5" x2="85" y2="54.5"/>
<line x1="82" y1="47.5" x2="85" y2="47.5" stroke="#a0a0a0"/>
<line x1="82" y1="40.5" x2="85" y2="40.5" stroke="#a0a0a0"/>
<line x1="82" y1="33.5" x2="85" y2="33.5" stroke="#a0a0a0"/>
<line x1="82" y1="27.5" x2="85" y2="27.5" stroke="#a0a0a0"/>
<line x1="80" y1="20.5" x2="85" y2="20.5"/>
</g>
<text x="141.5" y="509" text-anchor="middle">400</text>
<text x="201.5" y="509" text-anchor="middle">420</text>
<text x="262.5" y="509" text-anchor="middle">440</text>
<text x="322.5" y="509" text-anchor="middle">460</text>
<text x="383.5" y="509" text-anchor="middle">480</text>
<text x="443.5" y="509" text-anchor="middle">500</text>
<text x="504.5" y="509" text-anchor="middle">520</text>
<text x="564.5" y="509" text-anchor="middle">540</text>
<text x="625.5" y="509" text-anchor="middle">560</text>
<text x="685.5" y="509" text-anchor="middle">580</text>
<text x="746.5" y="509" text-anchor="middle">600</text>
<text x="806.5" y="509" text-anchor="middle">620</text>
<text x="867.5" y="509" text-anchor="middle">640</text>
<text x="928.5" y="509" text-anchor="middle">660</text>
<text x="988.5" y="509" text-anchor="middle">680</text>
<text x="1049.5" y="509" text-anchor="middle">700</text>
<text x="1109.5" y="509" text-anchor="middle">720</text>
<text x="1170.5" y="509" text-anchor="middle">740</text>
<text x="1230.5" y="509" text-anchor="middle">760</text>
<text x="76.5" y="492.42" text-anchor="end">0</text>
<text x="76.5" y="458.99" text-anchor="end">5000</text>
<text x="76.5" y="425.56" text-anchor="end">10000</text>
<text x="76.5" y="392.13" text-anchor="end">15000</text>
<text x="76.5" y="358.70" text-anchor="end">20000</text>
<text x="76.5" y="325.27" text-anchor="end">25000</text>
<text x="76.5" y="291.84" text-anchor="end">30000</text>
<text x="76.5" y="258.41" text-anchor="end">35000</text>
<text x="76.5" y="224.98" text-anchor="end">40000</text>
<text x="76.5" y="191.55" text-anchor="end">45000</text>
<text x="76.5" y="158.12" text-anchor="end">50000</text>
<text x="76.5" y="124.69" text-anchor="end">55000</text>
<text x="76.5" y="91.26" text-anchor="end">60000</text>
<text x="76.5" y="57.83" text-anchor="end">65000</text>
<text x="76.5" y="24.40" text-anchor="end">70000</text>
<text x="685" y="524.6" text-anchor="middle" style="stroke-width:0">Wavelength [nm]</text>
<text transform="translate(33.8,254.1) rotate(-90)" text-anchor="middle" textLength="229" lengthAdjust="spacing" style="stroke-width:0">Scope Corrected for Dark [ADC Counts]</text>
<line x1="8" y1="528.5" x2="1300" y2="528.5" stroke="#a0a0a0" shape-rendering="crispEdges"/>
<line x1="8.5" y1="528" x2="8.5" y2="530" stroke="#a0a0a0" shape-rendering="crispEdges"/>
<rect x="9" y="529" width="1291" height="1" fill="#f0f0f0"/>
</svg>
</body></html>
